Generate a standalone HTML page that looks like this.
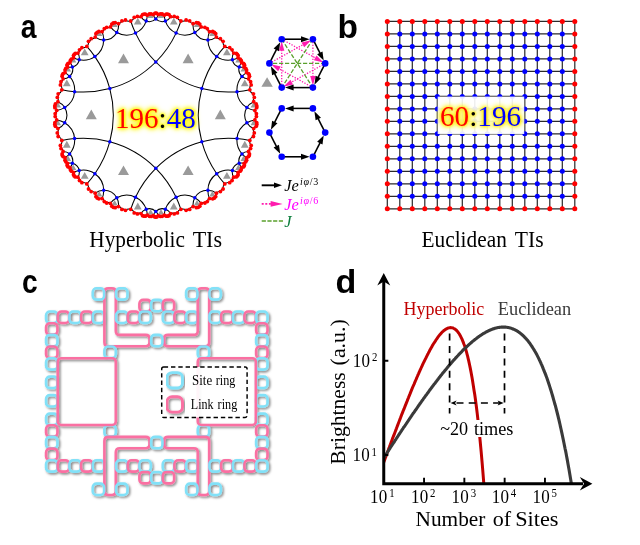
<!DOCTYPE html>
<html><head><meta charset="utf-8"><title>Figure</title>
<style>
html,body{margin:0;padding:0;background:#fff;}
#root{position:relative;width:640px;height:545px;overflow:hidden;background:#fff;}
.glow{position:absolute;transform-origin:0 0;font-family:"Liberation Serif","Times New Roman",serif;white-space:nowrap;line-height:1;text-shadow:0 0 2px #ff0,0 0 3px #ff0,0 0 4px #ff0,0 0 5px #ffee00,0 0 6px #ffee00,0 0 7px #fff200;}
.g2{text-shadow:0 0 2px #ffee11,0 0 3px #ffee11,0 0 4px #ffee22,0 0 5px #ffee22,0 0 6px #ffee33,0 0 7px #ffee44;}
.r{color:#f00}.b{color:#00f}.k{color:#000}
</style></head><body>
<div id="root">
<svg width="640" height="545" viewBox="0 0 640 545" style="position:absolute;left:0;top:0">
<defs>
<filter id="sh" x="-5%" y="-5%" width="115%" height="115%"><feDropShadow dx="1.5" dy="1.5" stdDeviation="1.0" flood-color="#000" flood-opacity="0.5"/></filter>
</defs>
<g id="pa">
<path d="M155.8 62.0A102.6 102.6 0 0 1 109.8 88.6M109.8 88.6A102.6 102.6 0 0 1 109.8 141.7M109.8 141.7A102.6 102.6 0 0 1 155.8 168.3M155.8 168.3A102.7 102.7 0 0 1 201.8 141.7M201.8 141.7A102.6 102.6 0 0 1 201.8 88.6M201.8 88.6A102.6 102.6 0 0 1 155.8 62.0M109.8 88.6A102.7 102.7 0 0 0 94.9 56.6M94.9 56.6A20.5 20.5 0 0 0 103.7 40.0M103.7 40.0A14.7 14.7 0 0 0 116.8 32.5M116.8 32.5A20.5 20.5 0 0 0 135.5 33.1M135.5 33.1A102.7 102.7 0 0 0 155.8 62.0M74.6 91.7A102.6 102.6 0 0 0 109.8 88.6M109.8 141.7A102.6 102.6 0 0 0 74.6 138.6M74.6 138.6A20.5 20.5 0 0 0 64.7 122.7M64.7 122.7A14.7 14.7 0 0 0 64.7 107.6M64.7 107.6A20.5 20.5 0 0 0 74.6 91.7M103.7 190.3A20.5 20.5 0 0 0 94.9 173.7M94.9 173.7A102.7 102.7 0 0 0 109.8 141.7M155.8 168.3A102.6 102.6 0 0 0 135.5 197.2M135.5 197.2A20.5 20.5 0 0 0 116.8 197.8M116.8 197.8A14.7 14.7 0 0 0 103.7 190.3M207.9 190.3A14.7 14.7 0 0 0 194.8 197.8M194.8 197.8A20.5 20.5 0 0 0 176.1 197.2M176.1 197.2A102.6 102.6 0 0 0 155.8 168.3M201.8 141.7A102.6 102.6 0 0 0 216.7 173.7M216.7 173.7A20.5 20.5 0 0 0 207.9 190.3M237.0 91.7A20.5 20.5 0 0 0 246.9 107.6M246.9 107.6A14.7 14.7 0 0 0 246.9 122.7M246.9 122.7A20.5 20.5 0 0 0 237.0 138.6M237.0 138.6A102.7 102.7 0 0 0 201.8 141.7M201.8 88.6A102.6 102.6 0 0 0 237.0 91.7M155.8 62.0A102.6 102.6 0 0 0 176.1 33.1M176.1 33.1A20.5 20.5 0 0 0 194.8 32.5M194.8 32.5A14.7 14.7 0 0 0 207.9 40.0M207.9 40.0A20.5 20.5 0 0 0 216.7 56.6M216.7 56.6A102.7 102.7 0 0 0 201.8 88.6M94.9 56.6A20.5 20.5 0 0 1 79.2 59.8M79.2 59.8A9.3 9.3 0 0 1 72.4 67.0M72.4 67.0A9.3 9.3 0 0 1 69.6 76.4M69.6 76.4A20.5 20.5 0 0 1 74.6 91.7M176.1 33.1A20.5 20.5 0 0 1 165.4 21.1M165.4 21.1A9.3 9.3 0 0 1 155.8 18.9M155.8 18.9A9.3 9.3 0 0 1 146.2 21.1M146.2 21.1A20.5 20.5 0 0 1 135.5 33.1M79.2 170.5A20.5 20.5 0 0 1 94.9 173.7M74.6 138.6A20.5 20.5 0 0 1 69.6 153.9M69.6 153.9A9.3 9.3 0 0 1 72.4 163.3M72.4 163.3A9.3 9.3 0 0 1 79.2 170.5M155.8 211.4A9.3 9.3 0 0 1 165.4 209.2M165.4 209.2A20.5 20.5 0 0 1 176.1 197.2M135.5 197.2A20.5 20.5 0 0 1 146.2 209.2M146.2 209.2A9.3 9.3 0 0 1 155.8 211.4M232.4 170.5A9.3 9.3 0 0 1 239.2 163.3M239.2 163.3A9.3 9.3 0 0 1 242.0 153.9M242.0 153.9A20.5 20.5 0 0 1 237.0 138.6M216.7 173.7A20.5 20.5 0 0 1 232.4 170.5M237.0 91.7A20.5 20.5 0 0 1 242.0 76.4M242.0 76.4A9.3 9.3 0 0 1 239.2 67.0M239.2 67.0A9.3 9.3 0 0 1 232.4 59.8M232.4 59.8A20.5 20.5 0 0 1 216.7 56.6M88.5 41.3A5.4 5.4 0 0 1 86.8 46.4M86.8 46.4A102.7 102.7 0 0 1 94.9 56.6M103.7 40.0A14.7 14.7 0 0 1 95.2 37.1M95.2 37.1A4.1 4.1 0 0 1 91.2 38.7M91.2 38.7A3.3 3.3 0 0 1 88.5 41.3M106.7 27.3A2.5 2.5 0 0 1 104.3 28.7M104.3 28.7A3.5 3.5 0 0 1 102.1 31.7M102.1 31.7A20.5 20.5 0 0 1 103.7 40.0M116.8 32.5A20.5 20.5 0 0 1 110.4 26.9M110.4 26.9A3.5 3.5 0 0 1 106.7 27.3M130.7 21.0A5.4 5.4 0 0 1 125.5 20.0M125.5 20.0A3.3 3.3 0 0 1 121.9 20.9M121.9 20.9A4.1 4.1 0 0 1 118.5 23.7M118.5 23.7A14.7 14.7 0 0 1 116.8 32.5M135.5 33.1A102.6 102.6 0 0 1 130.7 21.0M57.3 132.9A3.3 3.3 0 0 1 58.2 136.5M58.2 136.5A5.4 5.4 0 0 1 61.8 140.5M61.8 140.5A102.7 102.7 0 0 1 74.6 138.6M64.7 122.7A14.7 14.7 0 0 1 57.9 128.6M57.9 128.6A4.1 4.1 0 0 1 57.3 132.9M56.7 110.4A3.5 3.5 0 0 1 55.2 113.7M55.2 113.7A2.5 2.5 0 0 1 55.2 116.6M55.2 116.6A3.5 3.5 0 0 1 56.7 119.9M56.7 119.9A20.5 20.5 0 0 1 64.7 122.7M64.7 107.6A20.5 20.5 0 0 1 56.7 110.4M74.6 91.7A102.6 102.6 0 0 1 61.8 89.8M61.8 89.8A5.4 5.4 0 0 1 58.2 93.8M58.2 93.8A3.3 3.3 0 0 1 57.3 97.4M57.3 97.4A4.1 4.1 0 0 1 57.9 101.7M57.9 101.7A14.7 14.7 0 0 1 64.7 107.6M94.9 173.7A102.6 102.6 0 0 1 86.8 183.9M86.8 183.9A5.4 5.4 0 0 1 88.5 189.0M88.5 189.0A3.3 3.3 0 0 1 91.2 191.6M91.2 191.6A4.1 4.1 0 0 1 95.2 193.2M95.2 193.2A14.7 14.7 0 0 1 103.7 190.3M118.5 206.6A4.1 4.1 0 0 1 121.9 209.4M121.9 209.4A3.3 3.3 0 0 1 125.5 210.3M125.5 210.3A5.4 5.4 0 0 1 130.7 209.3M130.7 209.3A102.6 102.6 0 0 1 135.5 197.2M116.8 197.8A14.7 14.7 0 0 1 118.5 206.6M103.7 190.3A20.5 20.5 0 0 1 102.1 198.6M102.1 198.6A3.5 3.5 0 0 1 104.3 201.6M104.3 201.6A2.5 2.5 0 0 1 106.7 203.0M106.7 203.0A3.5 3.5 0 0 1 110.4 203.4M110.4 203.4A20.5 20.5 0 0 1 116.8 197.8M194.8 197.8A20.5 20.5 0 0 1 201.2 203.4M201.2 203.4A3.5 3.5 0 0 1 204.9 203.0M204.9 203.0A2.5 2.5 0 0 1 207.3 201.6M207.3 201.6A3.5 3.5 0 0 1 209.5 198.6M209.5 198.6A20.5 20.5 0 0 1 207.9 190.3M193.1 206.6A14.7 14.7 0 0 1 194.8 197.8M176.1 197.2A102.7 102.7 0 0 1 180.9 209.3M180.9 209.3A5.4 5.4 0 0 1 186.1 210.3M186.1 210.3A3.3 3.3 0 0 1 189.7 209.4M189.7 209.4A4.1 4.1 0 0 1 193.1 206.6M207.9 190.3A14.7 14.7 0 0 1 216.4 193.2M216.4 193.2A4.1 4.1 0 0 1 220.4 191.6M220.4 191.6A3.3 3.3 0 0 1 223.1 189.0M223.1 189.0A5.4 5.4 0 0 1 224.8 183.9M224.8 183.9A102.7 102.7 0 0 1 216.7 173.7M246.9 107.6A14.7 14.7 0 0 1 253.7 101.7M253.7 101.7A4.1 4.1 0 0 1 254.3 97.4M254.3 97.4A3.3 3.3 0 0 1 253.4 93.8M253.4 93.8A5.4 5.4 0 0 1 249.8 89.8M249.8 89.8A102.6 102.6 0 0 1 237.0 91.7M254.9 110.4A20.5 20.5 0 0 1 246.9 107.6M246.9 122.7A20.5 20.5 0 0 1 254.9 119.9M254.9 119.9A3.5 3.5 0 0 1 256.4 116.6M256.4 116.6A2.5 2.5 0 0 1 256.4 113.7M256.4 113.7A3.5 3.5 0 0 1 254.9 110.4M254.3 132.9A4.1 4.1 0 0 1 253.7 128.6M253.7 128.6A14.7 14.7 0 0 1 246.9 122.7M237.0 138.6A102.7 102.7 0 0 1 249.8 140.5M249.8 140.5A5.4 5.4 0 0 1 253.4 136.5M253.4 136.5A3.3 3.3 0 0 1 254.3 132.9M180.9 21.0A102.6 102.6 0 0 1 176.1 33.1M194.8 32.5A14.7 14.7 0 0 1 193.1 23.7M193.1 23.7A4.1 4.1 0 0 1 189.7 20.9M189.7 20.9A3.3 3.3 0 0 1 186.1 20.0M186.1 20.0A5.4 5.4 0 0 1 180.9 21.0M204.9 27.3A3.5 3.5 0 0 1 201.2 26.9M201.2 26.9A20.5 20.5 0 0 1 194.8 32.5M207.9 40.0A20.5 20.5 0 0 1 209.5 31.7M209.5 31.7A3.5 3.5 0 0 1 207.3 28.7M207.3 28.7A2.5 2.5 0 0 1 204.9 27.3M223.1 41.3A3.3 3.3 0 0 1 220.4 38.7M220.4 38.7A4.1 4.1 0 0 1 216.4 37.1M216.4 37.1A14.7 14.7 0 0 1 207.9 40.0M216.7 56.6A102.7 102.7 0 0 1 224.8 46.4M224.8 46.4A5.4 5.4 0 0 1 223.1 41.3M81.9 47.6A5.4 5.4 0 0 0 86.8 46.4M79.2 59.8A9.3 9.3 0 0 0 77.9 53.1M77.9 53.1A3.3 3.3 0 0 0 79.5 49.8M79.5 49.8A2.9 2.9 0 0 0 81.9 47.6M70.4 60.5A1.6 1.6 0 0 0 71.4 59.1M71.4 59.1A2.4 2.4 0 0 0 73.5 57.8M73.5 57.8A20.5 20.5 0 0 0 79.2 59.8M72.4 67.0A9.3 9.3 0 0 0 69.9 62.7M69.9 62.7A2.1 2.1 0 0 0 70.4 60.5M65.0 72.6A2.4 2.4 0 0 0 65.0 70.1M65.0 70.1A1.6 1.6 0 0 0 65.8 68.5M65.8 68.5A2.1 2.1 0 0 0 67.5 67.0M67.5 67.0A9.3 9.3 0 0 0 72.4 67.0M69.6 76.4A20.5 20.5 0 0 0 65.0 72.6M61.8 89.8A5.4 5.4 0 0 0 60.4 84.9M60.4 84.9A2.9 2.9 0 0 0 61.0 81.7M61.0 81.7A3.3 3.3 0 0 0 63.1 78.8M63.1 78.8A9.3 9.3 0 0 0 69.6 76.4M97.2 32.3A1.7 1.7 0 0 0 98.9 31.5M98.9 31.5A3.5 3.5 0 0 0 102.1 31.7M95.2 37.1A4.1 4.1 0 0 0 95.9 33.7M95.9 33.7A1.7 1.7 0 0 0 97.2 32.3M111.8 24.1A1.7 1.7 0 0 0 113.3 23.0M113.3 23.0A1.7 1.7 0 0 0 115.2 22.6M115.2 22.6A4.1 4.1 0 0 0 118.5 23.7M110.4 26.9A3.5 3.5 0 0 0 111.8 24.1M130.7 21.0A5.4 5.4 0 0 0 134.3 17.4M134.3 17.4A2.9 2.9 0 0 0 137.4 16.4M137.4 16.4A3.3 3.3 0 0 0 141.0 16.7M141.0 16.7A9.3 9.3 0 0 0 146.2 21.1M165.4 21.1A9.3 9.3 0 0 0 170.6 16.7M170.6 16.7A3.3 3.3 0 0 0 174.2 16.4M174.2 16.4A2.9 2.9 0 0 0 177.3 17.4M177.3 17.4A5.4 5.4 0 0 0 180.9 21.0M162.2 14.0A2.4 2.4 0 0 0 164.3 15.2M164.3 15.2A20.5 20.5 0 0 0 165.4 21.1M155.8 18.9A9.3 9.3 0 0 0 158.3 14.6M158.3 14.6A2.1 2.1 0 0 0 160.4 13.9M160.4 13.9A1.6 1.6 0 0 0 162.2 14.0M149.4 14.0A1.6 1.6 0 0 0 151.2 13.9M151.2 13.9A2.1 2.1 0 0 0 153.3 14.6M153.3 14.6A9.3 9.3 0 0 0 155.8 18.9M146.2 21.1A20.5 20.5 0 0 0 147.3 15.2M147.3 15.2A2.4 2.4 0 0 0 149.4 14.0M86.8 183.9A5.4 5.4 0 0 0 81.9 182.7M81.9 182.7A2.9 2.9 0 0 0 79.5 180.5M79.5 180.5A3.3 3.3 0 0 0 77.9 177.2M77.9 177.2A9.3 9.3 0 0 0 79.2 170.5M61.0 148.6A2.9 2.9 0 0 0 60.4 145.4M60.4 145.4A5.4 5.4 0 0 0 61.8 140.5M69.6 153.9A9.3 9.3 0 0 0 63.1 151.5M63.1 151.5A3.3 3.3 0 0 0 61.0 148.6M67.5 163.3A2.1 2.1 0 0 0 65.8 161.8M65.8 161.8A1.6 1.6 0 0 0 65.0 160.2M65.0 160.2A2.4 2.4 0 0 0 65.0 157.7M65.0 157.7A20.5 20.5 0 0 0 69.6 153.9M72.4 163.3A9.3 9.3 0 0 0 67.5 163.3M79.2 170.5A20.5 20.5 0 0 0 73.5 172.5M73.5 172.5A2.4 2.4 0 0 0 71.4 171.2M71.4 171.2A1.6 1.6 0 0 0 70.4 169.8M70.4 169.8A2.1 2.1 0 0 0 69.9 167.6M69.9 167.6A9.3 9.3 0 0 0 72.4 163.3M55.4 126.3A1.7 1.7 0 0 0 54.8 124.4M54.8 124.4A1.7 1.7 0 0 0 54.9 122.6M54.9 122.6A3.5 3.5 0 0 0 56.7 119.9M57.9 128.6A4.1 4.1 0 0 0 55.4 126.3M56.7 110.4A3.5 3.5 0 0 0 54.9 107.7M54.9 107.7A1.7 1.7 0 0 0 54.8 105.9M54.8 105.9A1.7 1.7 0 0 0 55.4 104.0M55.4 104.0A4.1 4.1 0 0 0 57.9 101.7M102.1 198.6A3.5 3.5 0 0 0 98.9 198.8M98.9 198.8A1.7 1.7 0 0 0 97.2 198.0M97.2 198.0A1.7 1.7 0 0 0 95.9 196.6M95.9 196.6A4.1 4.1 0 0 0 95.2 193.2M165.4 209.2A20.5 20.5 0 0 0 164.3 215.1M164.3 215.1A2.4 2.4 0 0 0 162.2 216.3M162.2 216.3A1.6 1.6 0 0 0 160.4 216.4M160.4 216.4A2.1 2.1 0 0 0 158.3 215.7M158.3 215.7A9.3 9.3 0 0 0 155.8 211.4M170.6 213.6A9.3 9.3 0 0 0 165.4 209.2M180.9 209.3A5.4 5.4 0 0 0 177.3 212.9M177.3 212.9A2.9 2.9 0 0 0 174.2 213.9M174.2 213.9A3.3 3.3 0 0 0 170.6 213.6M141.0 213.6A3.3 3.3 0 0 0 137.4 213.9M137.4 213.9A2.9 2.9 0 0 0 134.3 212.9M134.3 212.9A5.4 5.4 0 0 0 130.7 209.3M146.2 209.2A9.3 9.3 0 0 0 141.0 213.6M155.8 211.4A9.3 9.3 0 0 0 153.3 215.7M153.3 215.7A2.1 2.1 0 0 0 151.2 216.4M151.2 216.4A1.6 1.6 0 0 0 149.4 216.3M149.4 216.3A2.4 2.4 0 0 0 147.3 215.1M147.3 215.1A20.5 20.5 0 0 0 146.2 209.2M118.5 206.6A4.1 4.1 0 0 0 115.2 207.7M115.2 207.7A1.7 1.7 0 0 0 113.3 207.3M113.3 207.3A1.7 1.7 0 0 0 111.8 206.2M111.8 206.2A3.5 3.5 0 0 0 110.4 203.4M201.2 203.4A3.5 3.5 0 0 0 199.8 206.2M199.8 206.2A1.7 1.7 0 0 0 198.3 207.3M198.3 207.3A1.7 1.7 0 0 0 196.4 207.7M196.4 207.7A4.1 4.1 0 0 0 193.1 206.6M216.4 193.2A4.1 4.1 0 0 0 215.7 196.6M215.7 196.6A1.7 1.7 0 0 0 214.4 198.0M214.4 198.0A1.7 1.7 0 0 0 212.7 198.8M212.7 198.8A3.5 3.5 0 0 0 209.5 198.6M239.2 163.3A9.3 9.3 0 0 0 241.7 167.6M241.7 167.6A2.1 2.1 0 0 0 241.2 169.8M241.2 169.8A1.6 1.6 0 0 0 240.2 171.2M240.2 171.2A2.4 2.4 0 0 0 238.1 172.5M238.1 172.5A20.5 20.5 0 0 0 232.4 170.5M244.1 163.3A9.3 9.3 0 0 0 239.2 163.3M242.0 153.9A20.5 20.5 0 0 0 246.6 157.7M246.6 157.7A2.4 2.4 0 0 0 246.6 160.2M246.6 160.2A1.6 1.6 0 0 0 245.8 161.8M245.8 161.8A2.1 2.1 0 0 0 244.1 163.3M250.6 148.6A3.3 3.3 0 0 0 248.5 151.5M248.5 151.5A9.3 9.3 0 0 0 242.0 153.9M249.8 140.5A5.4 5.4 0 0 0 251.2 145.4M251.2 145.4A2.9 2.9 0 0 0 250.6 148.6M232.4 170.5A9.3 9.3 0 0 0 233.7 177.2M233.7 177.2A3.3 3.3 0 0 0 232.1 180.5M232.1 180.5A2.9 2.9 0 0 0 229.7 182.7M229.7 182.7A5.4 5.4 0 0 0 224.8 183.9M253.7 101.7A4.1 4.1 0 0 0 256.2 104.0M256.2 104.0A1.7 1.7 0 0 0 256.8 105.9M256.8 105.9A1.7 1.7 0 0 0 256.7 107.7M256.7 107.7A3.5 3.5 0 0 0 254.9 110.4M242.0 76.4A9.3 9.3 0 0 0 248.5 78.8M248.5 78.8A3.3 3.3 0 0 0 250.6 81.7M250.6 81.7A2.9 2.9 0 0 0 251.2 84.9M251.2 84.9A5.4 5.4 0 0 0 249.8 89.8M256.2 126.3A4.1 4.1 0 0 0 253.7 128.6M254.9 119.9A3.5 3.5 0 0 0 256.7 122.6M256.7 122.6A1.7 1.7 0 0 0 256.8 124.4M256.8 124.4A1.7 1.7 0 0 0 256.2 126.3M246.6 72.6A20.5 20.5 0 0 0 242.0 76.4M239.2 67.0A9.3 9.3 0 0 0 244.1 67.0M244.1 67.0A2.1 2.1 0 0 0 245.8 68.5M245.8 68.5A1.6 1.6 0 0 0 246.6 70.1M246.6 70.1A2.4 2.4 0 0 0 246.6 72.6M241.2 60.5A2.1 2.1 0 0 0 241.7 62.7M241.7 62.7A9.3 9.3 0 0 0 239.2 67.0M232.4 59.8A20.5 20.5 0 0 0 238.1 57.8M238.1 57.8A2.4 2.4 0 0 0 240.2 59.1M240.2 59.1A1.6 1.6 0 0 0 241.2 60.5M229.7 47.6A2.9 2.9 0 0 0 232.1 49.8M232.1 49.8A3.3 3.3 0 0 0 233.7 53.1M233.7 53.1A9.3 9.3 0 0 0 232.4 59.8M224.8 46.4A5.4 5.4 0 0 0 229.7 47.6M199.8 24.1A3.5 3.5 0 0 0 201.2 26.9M193.1 23.7A4.1 4.1 0 0 0 196.4 22.6M196.4 22.6A1.7 1.7 0 0 0 198.3 23.0M198.3 23.0A1.7 1.7 0 0 0 199.8 24.1M214.4 32.3A1.7 1.7 0 0 0 215.7 33.7M215.7 33.7A4.1 4.1 0 0 0 216.4 37.1M209.5 31.7A3.5 3.5 0 0 0 212.7 31.5M212.7 31.5A1.7 1.7 0 0 0 214.4 32.3M74.2 54.4A1.2 1.2 0 0 1 73.5 55.6M73.5 55.6A2.4 2.4 0 0 1 73.5 57.8M77.9 53.1A3.3 3.3 0 0 1 75.3 53.4M75.3 53.4A1.3 1.3 0 0 1 74.2 54.4M68.2 63.4A0.9 0.9 0 0 1 67.5 64.2M67.5 64.2A0.9 0.9 0 0 1 67.1 65.2M67.1 65.2A2.1 2.1 0 0 1 67.5 67.0M69.9 62.7A2.1 2.1 0 0 1 68.2 63.4M65.0 72.6A2.4 2.4 0 0 1 63.1 73.7M63.1 73.7A1.2 1.2 0 0 1 62.4 74.8M62.4 74.8A1.3 1.3 0 0 1 62.1 76.3M62.1 76.3A3.3 3.3 0 0 1 63.1 78.8M145.4 14.1A1.2 1.2 0 0 1 144.0 14.1M144.0 14.1A1.3 1.3 0 0 1 142.6 14.6M142.6 14.6A3.3 3.3 0 0 1 141.0 16.7M147.3 15.2A2.4 2.4 0 0 1 145.4 14.1M166.2 14.1A2.4 2.4 0 0 1 164.3 15.2M170.6 16.7A3.3 3.3 0 0 1 169.0 14.6M169.0 14.6A1.3 1.3 0 0 1 167.6 14.1M167.6 14.1A1.2 1.2 0 0 1 166.2 14.1M155.8 13.2A0.9 0.9 0 0 1 154.8 13.4M154.8 13.4A2.1 2.1 0 0 1 153.3 14.6M158.3 14.6A2.1 2.1 0 0 1 156.8 13.4M156.8 13.4A0.9 0.9 0 0 1 155.8 13.2M73.5 172.5A2.4 2.4 0 0 1 73.5 174.7M73.5 174.7A1.2 1.2 0 0 1 74.2 175.9M74.2 175.9A1.3 1.3 0 0 1 75.3 176.9M75.3 176.9A3.3 3.3 0 0 1 77.9 177.2M62.1 154.0A1.3 1.3 0 0 1 62.4 155.5M62.4 155.5A1.2 1.2 0 0 1 63.1 156.6M63.1 156.6A2.4 2.4 0 0 1 65.0 157.7M63.1 151.5A3.3 3.3 0 0 1 62.1 154.0M67.5 163.3A2.1 2.1 0 0 1 67.1 165.1M67.1 165.1A0.9 0.9 0 0 1 67.5 166.1M67.5 166.1A0.9 0.9 0 0 1 68.2 166.9M68.2 166.9A2.1 2.1 0 0 1 69.9 167.6M164.3 215.1A2.4 2.4 0 0 1 166.2 216.2M166.2 216.2A1.2 1.2 0 0 1 167.6 216.2M167.6 216.2A1.3 1.3 0 0 1 169.0 215.7M169.0 215.7A3.3 3.3 0 0 1 170.6 213.6M153.3 215.7A2.1 2.1 0 0 1 154.8 216.9M154.8 216.9A0.9 0.9 0 0 1 155.8 217.1M155.8 217.1A0.9 0.9 0 0 1 156.8 216.9M156.8 216.9A2.1 2.1 0 0 1 158.3 215.7M141.0 213.6A3.3 3.3 0 0 1 142.6 215.7M142.6 215.7A1.3 1.3 0 0 1 144.0 216.2M144.0 216.2A1.2 1.2 0 0 1 145.4 216.2M145.4 216.2A2.4 2.4 0 0 1 147.3 215.1M241.7 167.6A2.1 2.1 0 0 1 243.4 166.9M243.4 166.9A0.9 0.9 0 0 1 244.1 166.1M244.1 166.1A0.9 0.9 0 0 1 244.5 165.1M244.5 165.1A2.1 2.1 0 0 1 244.1 163.3M233.7 177.2A3.3 3.3 0 0 1 236.3 176.9M236.3 176.9A1.3 1.3 0 0 1 237.4 175.9M237.4 175.9A1.2 1.2 0 0 1 238.1 174.7M238.1 174.7A2.4 2.4 0 0 1 238.1 172.5M249.5 154.0A3.3 3.3 0 0 1 248.5 151.5M246.6 157.7A2.4 2.4 0 0 1 248.5 156.6M248.5 156.6A1.2 1.2 0 0 1 249.2 155.5M249.2 155.5A1.3 1.3 0 0 1 249.5 154.0M248.5 78.8A3.3 3.3 0 0 1 249.5 76.3M249.5 76.3A1.3 1.3 0 0 1 249.2 74.8M249.2 74.8A1.2 1.2 0 0 1 248.5 73.7M248.5 73.7A2.4 2.4 0 0 1 246.6 72.6M243.4 63.4A2.1 2.1 0 0 1 241.7 62.7M244.1 67.0A2.1 2.1 0 0 1 244.5 65.2M244.5 65.2A0.9 0.9 0 0 1 244.1 64.2M244.1 64.2A0.9 0.9 0 0 1 243.4 63.4M237.4 54.4A1.3 1.3 0 0 1 236.3 53.4M236.3 53.4A3.3 3.3 0 0 1 233.7 53.1M238.1 57.8A2.4 2.4 0 0 1 238.1 55.6M238.1 55.6A1.2 1.2 0 0 1 237.4 54.4" fill="none" stroke="#000" stroke-width="1.05"/>
<path d="M118.0 63.3L129.0 63.3L123.5 53.6ZM85.8 119.2L96.8 119.2L91.3 109.5ZM118.0 175.1L129.0 175.1L123.5 165.4ZM182.6 175.1L193.6 175.1L188.1 165.4ZM214.8 119.2L225.8 119.2L220.3 109.5ZM182.6 63.3L193.6 63.3L188.1 53.6ZM80.8 55.2L88.6 55.2L84.7 48.4ZM70.1 62.6L76.3 62.6L73.2 57.1ZM64.9 71.6L71.1 71.6L68.0 66.2ZM62.9 86.3L70.7 86.3L66.8 79.4ZM96.1 36.0L102.3 36.0L99.2 30.5ZM111.5 27.1L117.7 27.1L114.6 21.6ZM133.9 24.6L141.7 24.6L137.8 17.7ZM169.9 24.6L177.7 24.6L173.8 17.7ZM157.9 17.9L164.1 17.9L161.0 12.5ZM147.5 17.9L153.7 17.9L150.6 12.5ZM80.8 178.7L88.6 178.7L84.7 171.9ZM62.9 147.7L70.7 147.7L66.8 140.8ZM64.9 160.9L71.1 160.9L68.0 155.5ZM70.1 170.0L76.3 170.0L73.2 164.5ZM54.8 125.2L61.0 125.2L57.9 119.7ZM54.8 107.4L61.0 107.4L57.9 101.9ZM96.1 196.6L102.3 196.6L99.2 191.1ZM157.9 214.6L164.1 214.6L161.0 209.2ZM169.9 209.4L177.7 209.4L173.8 202.5ZM133.9 209.4L141.7 209.4L137.8 202.5ZM147.5 214.6L153.7 214.6L150.6 209.2ZM111.5 205.5L117.7 205.5L114.6 200.0ZM193.9 205.5L200.1 205.5L197.0 200.0ZM209.3 196.6L215.5 196.6L212.4 191.1ZM235.3 170.0L241.5 170.0L238.4 164.5ZM240.5 160.9L246.7 160.9L243.6 155.5ZM240.9 147.7L248.7 147.7L244.8 140.8ZM223.0 178.7L230.8 178.7L226.9 171.9ZM250.6 107.4L256.8 107.4L253.7 101.9ZM240.9 86.3L248.7 86.3L244.8 79.4ZM250.6 125.2L256.8 125.2L253.7 119.7ZM240.5 71.6L246.7 71.6L243.6 66.2ZM235.3 62.6L241.5 62.6L238.4 57.1ZM223.0 55.2L230.8 55.2L226.9 48.4ZM193.9 27.1L200.1 27.1L197.0 21.6ZM209.3 36.0L215.5 36.0L212.4 30.5Z" fill="#9a9a9a"/>
<g fill="#f00"><circle cx="88.5" cy="41.3" r="1.9"/><circle cx="86.8" cy="46.4" r="1.9"/><circle cx="95.2" cy="37.1" r="1.9"/><circle cx="91.2" cy="38.7" r="1.9"/><circle cx="106.7" cy="27.3" r="1.9"/><circle cx="104.3" cy="28.7" r="1.9"/><circle cx="102.1" cy="31.7" r="1.9"/><circle cx="110.4" cy="26.9" r="1.9"/><circle cx="130.7" cy="21.0" r="1.9"/><circle cx="125.5" cy="20.0" r="1.9"/><circle cx="121.9" cy="20.9" r="1.9"/><circle cx="118.5" cy="23.7" r="1.9"/><circle cx="57.3" cy="132.9" r="1.9"/><circle cx="58.2" cy="136.5" r="1.9"/><circle cx="61.8" cy="140.5" r="1.9"/><circle cx="57.9" cy="128.6" r="1.9"/><circle cx="56.7" cy="110.4" r="1.9"/><circle cx="55.2" cy="113.7" r="1.9"/><circle cx="55.2" cy="116.6" r="1.9"/><circle cx="56.7" cy="119.9" r="1.9"/><circle cx="61.8" cy="89.8" r="1.9"/><circle cx="58.2" cy="93.8" r="1.9"/><circle cx="57.3" cy="97.4" r="1.9"/><circle cx="57.9" cy="101.7" r="1.9"/><circle cx="86.8" cy="183.9" r="1.9"/><circle cx="88.5" cy="189.0" r="1.9"/><circle cx="91.2" cy="191.6" r="1.9"/><circle cx="95.2" cy="193.2" r="1.9"/><circle cx="118.5" cy="206.6" r="1.9"/><circle cx="121.9" cy="209.4" r="1.9"/><circle cx="125.5" cy="210.3" r="1.9"/><circle cx="130.7" cy="209.3" r="1.9"/><circle cx="102.1" cy="198.6" r="1.9"/><circle cx="104.3" cy="201.6" r="1.9"/><circle cx="106.7" cy="203.0" r="1.9"/><circle cx="110.4" cy="203.4" r="1.9"/><circle cx="201.2" cy="203.4" r="1.9"/><circle cx="204.9" cy="203.0" r="1.9"/><circle cx="207.3" cy="201.6" r="1.9"/><circle cx="209.5" cy="198.6" r="1.9"/><circle cx="193.1" cy="206.6" r="1.9"/><circle cx="180.9" cy="209.3" r="1.9"/><circle cx="186.1" cy="210.3" r="1.9"/><circle cx="189.7" cy="209.4" r="1.9"/><circle cx="216.4" cy="193.2" r="1.9"/><circle cx="220.4" cy="191.6" r="1.9"/><circle cx="223.1" cy="189.0" r="1.9"/><circle cx="224.8" cy="183.9" r="1.9"/><circle cx="253.7" cy="101.7" r="1.9"/><circle cx="254.3" cy="97.4" r="1.9"/><circle cx="253.4" cy="93.8" r="1.9"/><circle cx="249.8" cy="89.8" r="1.9"/><circle cx="254.9" cy="110.4" r="1.9"/><circle cx="254.9" cy="119.9" r="1.9"/><circle cx="256.4" cy="116.6" r="1.9"/><circle cx="256.4" cy="113.7" r="1.9"/><circle cx="254.3" cy="132.9" r="1.9"/><circle cx="253.7" cy="128.6" r="1.9"/><circle cx="249.8" cy="140.5" r="1.9"/><circle cx="253.4" cy="136.5" r="1.9"/><circle cx="180.9" cy="21.0" r="1.9"/><circle cx="193.1" cy="23.7" r="1.9"/><circle cx="189.7" cy="20.9" r="1.9"/><circle cx="186.1" cy="20.0" r="1.9"/><circle cx="204.9" cy="27.3" r="1.9"/><circle cx="201.2" cy="26.9" r="1.9"/><circle cx="209.5" cy="31.7" r="1.9"/><circle cx="207.3" cy="28.7" r="1.9"/><circle cx="223.1" cy="41.3" r="1.9"/><circle cx="220.4" cy="38.7" r="1.9"/><circle cx="216.4" cy="37.1" r="1.9"/><circle cx="224.8" cy="46.4" r="1.9"/><circle cx="81.9" cy="47.6" r="1.9"/><circle cx="77.9" cy="53.1" r="1.9"/><circle cx="79.5" cy="49.8" r="1.9"/><circle cx="70.4" cy="60.5" r="1.9"/><circle cx="71.4" cy="59.1" r="1.9"/><circle cx="73.5" cy="57.8" r="1.9"/><circle cx="69.9" cy="62.7" r="1.9"/><circle cx="65.0" cy="72.6" r="1.9"/><circle cx="65.0" cy="70.1" r="1.9"/><circle cx="65.8" cy="68.5" r="1.9"/><circle cx="67.5" cy="67.0" r="1.9"/><circle cx="60.4" cy="84.9" r="1.9"/><circle cx="61.0" cy="81.7" r="1.9"/><circle cx="63.1" cy="78.8" r="1.9"/><circle cx="97.2" cy="32.3" r="1.9"/><circle cx="98.9" cy="31.5" r="1.9"/><circle cx="95.9" cy="33.7" r="1.9"/><circle cx="111.8" cy="24.1" r="1.9"/><circle cx="113.3" cy="23.0" r="1.9"/><circle cx="115.2" cy="22.6" r="1.9"/><circle cx="134.2" cy="17.4" r="1.9"/><circle cx="137.4" cy="16.4" r="1.9"/><circle cx="141.0" cy="16.7" r="1.9"/><circle cx="170.6" cy="16.7" r="1.9"/><circle cx="174.2" cy="16.4" r="1.9"/><circle cx="177.4" cy="17.4" r="1.9"/><circle cx="162.2" cy="14.0" r="1.9"/><circle cx="164.3" cy="15.2" r="1.9"/><circle cx="158.3" cy="14.6" r="1.9"/><circle cx="160.4" cy="13.9" r="1.9"/><circle cx="149.4" cy="14.0" r="1.9"/><circle cx="151.2" cy="13.9" r="1.9"/><circle cx="153.3" cy="14.6" r="1.9"/><circle cx="147.3" cy="15.2" r="1.9"/><circle cx="81.9" cy="182.7" r="1.9"/><circle cx="79.5" cy="180.5" r="1.9"/><circle cx="77.9" cy="177.2" r="1.9"/><circle cx="61.0" cy="148.6" r="1.9"/><circle cx="60.4" cy="145.4" r="1.9"/><circle cx="63.1" cy="151.5" r="1.9"/><circle cx="67.5" cy="163.3" r="1.9"/><circle cx="65.8" cy="161.8" r="1.9"/><circle cx="65.0" cy="160.2" r="1.9"/><circle cx="65.0" cy="157.7" r="1.9"/><circle cx="73.5" cy="172.5" r="1.9"/><circle cx="71.4" cy="171.2" r="1.9"/><circle cx="70.4" cy="169.8" r="1.9"/><circle cx="69.9" cy="167.6" r="1.9"/><circle cx="55.4" cy="126.3" r="1.9"/><circle cx="54.8" cy="124.4" r="1.9"/><circle cx="54.9" cy="122.6" r="1.9"/><circle cx="54.9" cy="107.7" r="1.9"/><circle cx="54.8" cy="105.9" r="1.9"/><circle cx="55.4" cy="104.0" r="1.9"/><circle cx="98.9" cy="198.8" r="1.9"/><circle cx="97.2" cy="198.0" r="1.9"/><circle cx="95.9" cy="196.6" r="1.9"/><circle cx="164.3" cy="215.1" r="1.9"/><circle cx="162.2" cy="216.3" r="1.9"/><circle cx="160.4" cy="216.4" r="1.9"/><circle cx="158.3" cy="215.7" r="1.9"/><circle cx="170.6" cy="213.6" r="1.9"/><circle cx="177.4" cy="212.9" r="1.9"/><circle cx="174.2" cy="213.9" r="1.9"/><circle cx="141.0" cy="213.6" r="1.9"/><circle cx="137.4" cy="213.9" r="1.9"/><circle cx="134.2" cy="212.9" r="1.9"/><circle cx="153.3" cy="215.7" r="1.9"/><circle cx="151.2" cy="216.4" r="1.9"/><circle cx="149.4" cy="216.3" r="1.9"/><circle cx="147.3" cy="215.1" r="1.9"/><circle cx="115.2" cy="207.7" r="1.9"/><circle cx="113.3" cy="207.3" r="1.9"/><circle cx="111.8" cy="206.2" r="1.9"/><circle cx="199.8" cy="206.2" r="1.9"/><circle cx="198.3" cy="207.3" r="1.9"/><circle cx="196.4" cy="207.7" r="1.9"/><circle cx="215.7" cy="196.6" r="1.9"/><circle cx="214.4" cy="198.0" r="1.9"/><circle cx="212.7" cy="198.8" r="1.9"/><circle cx="241.7" cy="167.6" r="1.9"/><circle cx="241.2" cy="169.8" r="1.9"/><circle cx="240.2" cy="171.2" r="1.9"/><circle cx="238.1" cy="172.5" r="1.9"/><circle cx="244.1" cy="163.3" r="1.9"/><circle cx="246.6" cy="157.7" r="1.9"/><circle cx="246.6" cy="160.2" r="1.9"/><circle cx="245.8" cy="161.8" r="1.9"/><circle cx="250.6" cy="148.6" r="1.9"/><circle cx="248.5" cy="151.5" r="1.9"/><circle cx="251.2" cy="145.4" r="1.9"/><circle cx="233.7" cy="177.2" r="1.9"/><circle cx="232.1" cy="180.5" r="1.9"/><circle cx="229.7" cy="182.7" r="1.9"/><circle cx="256.2" cy="104.0" r="1.9"/><circle cx="256.8" cy="105.9" r="1.9"/><circle cx="256.7" cy="107.7" r="1.9"/><circle cx="248.5" cy="78.8" r="1.9"/><circle cx="250.6" cy="81.7" r="1.9"/><circle cx="251.2" cy="84.9" r="1.9"/><circle cx="256.2" cy="126.3" r="1.9"/><circle cx="256.7" cy="122.6" r="1.9"/><circle cx="256.8" cy="124.4" r="1.9"/><circle cx="246.6" cy="72.6" r="1.9"/><circle cx="244.1" cy="67.0" r="1.9"/><circle cx="245.8" cy="68.5" r="1.9"/><circle cx="246.6" cy="70.1" r="1.9"/><circle cx="241.2" cy="60.5" r="1.9"/><circle cx="241.7" cy="62.7" r="1.9"/><circle cx="238.1" cy="57.8" r="1.9"/><circle cx="240.2" cy="59.1" r="1.9"/><circle cx="229.7" cy="47.6" r="1.9"/><circle cx="232.1" cy="49.8" r="1.9"/><circle cx="233.7" cy="53.1" r="1.9"/><circle cx="199.8" cy="24.1" r="1.9"/><circle cx="196.4" cy="22.6" r="1.9"/><circle cx="198.3" cy="23.0" r="1.9"/><circle cx="214.4" cy="32.3" r="1.9"/><circle cx="215.7" cy="33.7" r="1.9"/><circle cx="212.7" cy="31.5" r="1.9"/><circle cx="74.2" cy="54.4" r="1.9"/><circle cx="73.5" cy="55.6" r="1.9"/><circle cx="75.3" cy="53.4" r="1.9"/><circle cx="68.2" cy="63.4" r="1.9"/><circle cx="67.5" cy="64.2" r="1.9"/><circle cx="67.1" cy="65.2" r="1.9"/><circle cx="63.1" cy="73.7" r="1.9"/><circle cx="62.4" cy="74.8" r="1.9"/><circle cx="62.1" cy="76.3" r="1.9"/><circle cx="145.4" cy="14.1" r="1.9"/><circle cx="144.0" cy="14.1" r="1.9"/><circle cx="142.6" cy="14.6" r="1.9"/><circle cx="166.2" cy="14.1" r="1.9"/><circle cx="169.0" cy="14.6" r="1.9"/><circle cx="167.6" cy="14.1" r="1.9"/><circle cx="155.8" cy="13.2" r="1.9"/><circle cx="154.8" cy="13.4" r="1.9"/><circle cx="156.8" cy="13.4" r="1.9"/><circle cx="73.5" cy="174.7" r="1.9"/><circle cx="74.2" cy="175.9" r="1.9"/><circle cx="75.3" cy="176.9" r="1.9"/><circle cx="62.1" cy="154.0" r="1.9"/><circle cx="62.4" cy="155.5" r="1.9"/><circle cx="63.1" cy="156.6" r="1.9"/><circle cx="67.1" cy="165.1" r="1.9"/><circle cx="67.5" cy="166.1" r="1.9"/><circle cx="68.2" cy="166.9" r="1.9"/><circle cx="166.2" cy="216.2" r="1.9"/><circle cx="167.6" cy="216.2" r="1.9"/><circle cx="169.0" cy="215.7" r="1.9"/><circle cx="154.8" cy="216.9" r="1.9"/><circle cx="155.8" cy="217.1" r="1.9"/><circle cx="156.8" cy="216.9" r="1.9"/><circle cx="142.6" cy="215.7" r="1.9"/><circle cx="144.0" cy="216.2" r="1.9"/><circle cx="145.4" cy="216.2" r="1.9"/><circle cx="243.4" cy="166.9" r="1.9"/><circle cx="244.1" cy="166.1" r="1.9"/><circle cx="244.5" cy="165.1" r="1.9"/><circle cx="236.3" cy="176.9" r="1.9"/><circle cx="237.4" cy="175.9" r="1.9"/><circle cx="238.1" cy="174.7" r="1.9"/><circle cx="249.5" cy="154.0" r="1.9"/><circle cx="248.5" cy="156.6" r="1.9"/><circle cx="249.2" cy="155.5" r="1.9"/><circle cx="249.5" cy="76.3" r="1.9"/><circle cx="249.2" cy="74.8" r="1.9"/><circle cx="248.5" cy="73.7" r="1.9"/><circle cx="243.4" cy="63.4" r="1.9"/><circle cx="244.5" cy="65.2" r="1.9"/><circle cx="244.1" cy="64.2" r="1.9"/><circle cx="237.4" cy="54.4" r="1.9"/><circle cx="236.3" cy="53.4" r="1.9"/><circle cx="238.1" cy="55.6" r="1.9"/></g>
<g fill="#00f"><circle cx="155.8" cy="62.0" r="1.75"/><circle cx="109.8" cy="88.6" r="1.75"/><circle cx="109.8" cy="141.7" r="1.75"/><circle cx="155.8" cy="168.3" r="1.75"/><circle cx="201.8" cy="141.7" r="1.75"/><circle cx="201.8" cy="88.6" r="1.75"/><circle cx="94.9" cy="56.6" r="1.75"/><circle cx="103.7" cy="40.0" r="1.75"/><circle cx="116.8" cy="32.5" r="1.75"/><circle cx="135.5" cy="33.1" r="1.75"/><circle cx="74.6" cy="91.7" r="1.75"/><circle cx="74.6" cy="138.6" r="1.75"/><circle cx="64.7" cy="122.7" r="1.75"/><circle cx="64.7" cy="107.6" r="1.75"/><circle cx="103.7" cy="190.3" r="1.75"/><circle cx="94.9" cy="173.7" r="1.75"/><circle cx="135.5" cy="197.2" r="1.75"/><circle cx="116.8" cy="197.8" r="1.75"/><circle cx="207.9" cy="190.3" r="1.75"/><circle cx="194.8" cy="197.8" r="1.75"/><circle cx="176.1" cy="197.2" r="1.75"/><circle cx="216.7" cy="173.7" r="1.75"/><circle cx="237.0" cy="91.7" r="1.75"/><circle cx="246.9" cy="107.6" r="1.75"/><circle cx="246.9" cy="122.7" r="1.75"/><circle cx="237.0" cy="138.6" r="1.75"/><circle cx="176.1" cy="33.1" r="1.75"/><circle cx="194.8" cy="32.5" r="1.75"/><circle cx="207.9" cy="40.0" r="1.75"/><circle cx="216.7" cy="56.6" r="1.75"/><circle cx="79.2" cy="59.8" r="1.75"/><circle cx="72.4" cy="67.0" r="1.75"/><circle cx="69.6" cy="76.4" r="1.75"/><circle cx="165.4" cy="21.1" r="1.75"/><circle cx="155.8" cy="18.9" r="1.75"/><circle cx="146.2" cy="21.1" r="1.75"/><circle cx="79.2" cy="170.5" r="1.75"/><circle cx="69.6" cy="153.9" r="1.75"/><circle cx="72.4" cy="163.3" r="1.75"/><circle cx="155.8" cy="211.4" r="1.75"/><circle cx="165.4" cy="209.2" r="1.75"/><circle cx="146.2" cy="209.2" r="1.75"/><circle cx="232.4" cy="170.5" r="1.75"/><circle cx="239.2" cy="163.3" r="1.75"/><circle cx="242.0" cy="153.9" r="1.75"/><circle cx="242.0" cy="76.4" r="1.75"/><circle cx="239.2" cy="67.0" r="1.75"/><circle cx="232.4" cy="59.8" r="1.75"/></g>
</g>
<g id="ins">
<line x1="281.7" y1="39.2" x2="318.2" y2="59.5" stroke="#ff1cae" stroke-width="1.3" stroke-dasharray="1.3 1.5"/>
<path d="M323.47 62.44L313.86 60.18L316.48 55.46Z" fill="#ff1cae"/>
<line x1="312.9" y1="39.2" x2="312.9" y2="79.6" stroke="#ff1cae" stroke-width="1.3" stroke-dasharray="1.3 1.5"/>
<path d="M312.90 85.62L310.20 76.12L315.60 76.12Z" fill="#ff1cae"/>
<line x1="325.2" y1="63.4" x2="288.7" y2="83.7" stroke="#ff1cae" stroke-width="1.3" stroke-dasharray="1.3 1.5"/>
<path d="M283.43 86.64L290.42 79.66L293.04 84.38Z" fill="#ff1cae"/>
<line x1="312.9" y1="87.6" x2="276.4" y2="67.3" stroke="#ff1cae" stroke-width="1.3" stroke-dasharray="1.3 1.5"/>
<path d="M271.13 64.36L280.74 66.62L278.12 71.34Z" fill="#ff1cae"/>
<line x1="281.7" y1="87.6" x2="281.7" y2="47.2" stroke="#ff1cae" stroke-width="1.3" stroke-dasharray="1.3 1.5"/>
<path d="M281.70 41.18L284.40 50.68L279.00 50.68Z" fill="#ff1cae"/>
<line x1="269.4" y1="63.4" x2="305.9" y2="43.1" stroke="#ff1cae" stroke-width="1.3" stroke-dasharray="1.3 1.5"/>
<path d="M311.17 40.16L304.18 47.14L301.56 42.42Z" fill="#ff1cae"/>
<line x1="281.7" y1="39.2" x2="312.9" y2="87.6" stroke="#5aa02c" stroke-width="1.3" stroke-dasharray="4.2 1.8"/>
<line x1="312.9" y1="39.2" x2="281.7" y2="87.6" stroke="#5aa02c" stroke-width="1.3" stroke-dasharray="4.2 1.8"/>
<line x1="325.2" y1="63.4" x2="269.4" y2="63.4" stroke="#5aa02c" stroke-width="1.3" stroke-dasharray="4.2 1.8"/>
<line x1="281.7" y1="39.2" x2="305.6" y2="39.2" stroke="#000" stroke-width="1.55"/>
<path d="M309.60 39.20L301.00 42.20L301.00 36.20Z" fill="#000"/>
<line x1="312.9" y1="39.2" x2="321.9" y2="56.9" stroke="#000" stroke-width="1.55"/>
<path d="M323.70 60.46L317.13 54.15L322.48 51.43Z" fill="#000"/>
<line x1="325.2" y1="63.4" x2="316.2" y2="81.1" stroke="#000" stroke-width="1.55"/>
<path d="M314.40 84.66L315.62 75.63L320.97 78.35Z" fill="#000"/>
<line x1="312.9" y1="87.6" x2="289.0" y2="87.6" stroke="#000" stroke-width="1.55"/>
<path d="M285.00 87.60L293.60 84.60L293.60 90.60Z" fill="#000"/>
<line x1="281.7" y1="87.6" x2="272.7" y2="69.9" stroke="#000" stroke-width="1.55"/>
<path d="M270.90 66.34L277.47 72.65L272.12 75.37Z" fill="#000"/>
<line x1="269.4" y1="63.4" x2="278.4" y2="45.7" stroke="#000" stroke-width="1.55"/>
<path d="M280.20 42.14L278.98 51.17L273.63 48.45Z" fill="#000"/>
<circle cx="281.7" cy="39.2" r="3.3" fill="#00f"/>
<circle cx="312.9" cy="39.2" r="3.3" fill="#00f"/>
<circle cx="325.2" cy="63.4" r="3.3" fill="#00f"/>
<circle cx="312.9" cy="87.6" r="3.3" fill="#00f"/>
<circle cx="281.7" cy="87.6" r="3.3" fill="#00f"/>
<circle cx="269.4" cy="63.4" r="3.3" fill="#00f"/>
<line x1="312.9" y1="108.4" x2="289.0" y2="108.4" stroke="#000" stroke-width="1.55"/>
<path d="M285.00 108.40L293.60 105.40L293.60 111.40Z" fill="#000"/>
<line x1="325.2" y1="132.6" x2="316.2" y2="114.9" stroke="#000" stroke-width="1.55"/>
<path d="M314.40 111.34L320.97 117.65L315.62 120.37Z" fill="#000"/>
<line x1="312.9" y1="156.8" x2="321.9" y2="139.1" stroke="#000" stroke-width="1.55"/>
<path d="M323.70 135.54L322.48 144.57L317.13 141.85Z" fill="#000"/>
<line x1="281.7" y1="156.8" x2="305.6" y2="156.8" stroke="#000" stroke-width="1.55"/>
<path d="M309.60 156.80L301.00 159.80L301.00 153.80Z" fill="#000"/>
<line x1="269.4" y1="132.6" x2="278.4" y2="150.3" stroke="#000" stroke-width="1.55"/>
<path d="M280.20 153.86L273.63 147.55L278.98 144.83Z" fill="#000"/>
<line x1="281.7" y1="108.4" x2="272.7" y2="126.1" stroke="#000" stroke-width="1.55"/>
<path d="M270.90 129.66L272.12 120.63L277.47 123.35Z" fill="#000"/>
<circle cx="281.7" cy="108.4" r="3.3" fill="#00f"/>
<circle cx="312.9" cy="108.4" r="3.3" fill="#00f"/>
<circle cx="325.2" cy="132.6" r="3.3" fill="#00f"/>
<circle cx="312.9" cy="156.8" r="3.3" fill="#00f"/>
<circle cx="281.7" cy="156.8" r="3.3" fill="#00f"/>
<circle cx="269.4" cy="132.6" r="3.3" fill="#00f"/>
<path d="M261.4 86.8L272.8 86.8L267.1 77.2Z" fill="#9a9a9a"/>
<line x1="261.7" y1="185.3" x2="276" y2="185.3" stroke="#000" stroke-width="1.9"/>
<path d="M282.00 185.30L274.00 188.10L274.00 182.50Z" fill="#000"/>
<line x1="261.7" y1="203.9" x2="271" y2="203.9" stroke="#ff1cae" stroke-width="1.8" stroke-dasharray="2 1.6"/>
<path d="M282.60 203.90L270.60 206.80L270.60 201.00Z" fill="#ff1cae"/>
<line x1="261.7" y1="221" x2="283" y2="221" stroke="#5aa02c" stroke-width="1.7" stroke-dasharray="4.2 1.5"/>
<text x="284.3" y="191" font-family='"Liberation Serif","Times New Roman",serif' font-style="italic" font-size="16.4" fill="#000">Je<tspan dx="1.2" dy="-6.3" font-size="10" letter-spacing="0.7">iφ<tspan font-style="normal">/3</tspan></tspan></text>
<text x="284.3" y="209.8" font-family='"Liberation Serif","Times New Roman",serif' font-style="italic" font-size="16.4" fill="#f0f">Je<tspan dx="1.2" dy="-6.3" font-size="10" letter-spacing="0.7">iφ<tspan font-style="normal">/6</tspan></tspan></text>
<text x="284.3" y="226.7" font-family='"Liberation Serif","Times New Roman",serif' font-style="italic" font-size="16.4" fill="#0a7d3c">J</text>
</g>
<g id="pb">
<path d="M387.30 21.45V208.80M399.80 21.45V208.80M412.30 21.45V208.80M424.80 21.45V208.80M437.30 21.45V208.80M449.80 21.45V208.80M462.30 21.45V208.80M474.80 21.45V208.80M487.30 21.45V208.80M499.80 21.45V208.80M512.30 21.45V208.80M524.80 21.45V208.80M537.30 21.45V208.80M549.80 21.45V208.80M562.30 21.45V208.80M574.80 21.45V208.80M387.30 21.45H574.80M387.30 33.94H574.80M387.30 46.43H574.80M387.30 58.92H574.80M387.30 71.41H574.80M387.30 83.90H574.80M387.30 96.39H574.80M387.30 108.88H574.80M387.30 121.37H574.80M387.30 133.86H574.80M387.30 146.35H574.80M387.30 158.84H574.80M387.30 171.33H574.80M387.30 183.82H574.80M387.30 196.31H574.80M387.30 208.80H574.80" stroke="#2a2a2a" stroke-width="1.2" fill="none"/>
<g fill="#f00"><circle cx="387.30" cy="21.45" r="2.5"/><circle cx="387.30" cy="33.94" r="2.5"/><circle cx="387.30" cy="46.43" r="2.5"/><circle cx="387.30" cy="58.92" r="2.5"/><circle cx="387.30" cy="71.41" r="2.5"/><circle cx="387.30" cy="83.90" r="2.5"/><circle cx="387.30" cy="96.39" r="2.5"/><circle cx="387.30" cy="108.88" r="2.5"/><circle cx="387.30" cy="121.37" r="2.5"/><circle cx="387.30" cy="133.86" r="2.5"/><circle cx="387.30" cy="146.35" r="2.5"/><circle cx="387.30" cy="158.84" r="2.5"/><circle cx="387.30" cy="171.33" r="2.5"/><circle cx="387.30" cy="183.82" r="2.5"/><circle cx="387.30" cy="196.31" r="2.5"/><circle cx="387.30" cy="208.80" r="2.5"/><circle cx="399.80" cy="21.45" r="2.5"/><circle cx="399.80" cy="208.80" r="2.5"/><circle cx="412.30" cy="21.45" r="2.5"/><circle cx="412.30" cy="208.80" r="2.5"/><circle cx="424.80" cy="21.45" r="2.5"/><circle cx="424.80" cy="208.80" r="2.5"/><circle cx="437.30" cy="21.45" r="2.5"/><circle cx="437.30" cy="208.80" r="2.5"/><circle cx="449.80" cy="21.45" r="2.5"/><circle cx="449.80" cy="208.80" r="2.5"/><circle cx="462.30" cy="21.45" r="2.5"/><circle cx="462.30" cy="208.80" r="2.5"/><circle cx="474.80" cy="21.45" r="2.5"/><circle cx="474.80" cy="208.80" r="2.5"/><circle cx="487.30" cy="21.45" r="2.5"/><circle cx="487.30" cy="208.80" r="2.5"/><circle cx="499.80" cy="21.45" r="2.5"/><circle cx="499.80" cy="208.80" r="2.5"/><circle cx="512.30" cy="21.45" r="2.5"/><circle cx="512.30" cy="208.80" r="2.5"/><circle cx="524.80" cy="21.45" r="2.5"/><circle cx="524.80" cy="208.80" r="2.5"/><circle cx="537.30" cy="21.45" r="2.5"/><circle cx="537.30" cy="208.80" r="2.5"/><circle cx="549.80" cy="21.45" r="2.5"/><circle cx="549.80" cy="208.80" r="2.5"/><circle cx="562.30" cy="21.45" r="2.5"/><circle cx="562.30" cy="208.80" r="2.5"/><circle cx="574.80" cy="21.45" r="2.5"/><circle cx="574.80" cy="33.94" r="2.5"/><circle cx="574.80" cy="46.43" r="2.5"/><circle cx="574.80" cy="58.92" r="2.5"/><circle cx="574.80" cy="71.41" r="2.5"/><circle cx="574.80" cy="83.90" r="2.5"/><circle cx="574.80" cy="96.39" r="2.5"/><circle cx="574.80" cy="108.88" r="2.5"/><circle cx="574.80" cy="121.37" r="2.5"/><circle cx="574.80" cy="133.86" r="2.5"/><circle cx="574.80" cy="146.35" r="2.5"/><circle cx="574.80" cy="158.84" r="2.5"/><circle cx="574.80" cy="171.33" r="2.5"/><circle cx="574.80" cy="183.82" r="2.5"/><circle cx="574.80" cy="196.31" r="2.5"/><circle cx="574.80" cy="208.80" r="2.5"/></g>
<g fill="#00f"><circle cx="399.80" cy="33.94" r="2.5"/><circle cx="399.80" cy="46.43" r="2.5"/><circle cx="399.80" cy="58.92" r="2.5"/><circle cx="399.80" cy="71.41" r="2.5"/><circle cx="399.80" cy="83.90" r="2.5"/><circle cx="399.80" cy="96.39" r="2.5"/><circle cx="399.80" cy="108.88" r="2.5"/><circle cx="399.80" cy="121.37" r="2.5"/><circle cx="399.80" cy="133.86" r="2.5"/><circle cx="399.80" cy="146.35" r="2.5"/><circle cx="399.80" cy="158.84" r="2.5"/><circle cx="399.80" cy="171.33" r="2.5"/><circle cx="399.80" cy="183.82" r="2.5"/><circle cx="399.80" cy="196.31" r="2.5"/><circle cx="412.30" cy="33.94" r="2.5"/><circle cx="412.30" cy="46.43" r="2.5"/><circle cx="412.30" cy="58.92" r="2.5"/><circle cx="412.30" cy="71.41" r="2.5"/><circle cx="412.30" cy="83.90" r="2.5"/><circle cx="412.30" cy="96.39" r="2.5"/><circle cx="412.30" cy="108.88" r="2.5"/><circle cx="412.30" cy="121.37" r="2.5"/><circle cx="412.30" cy="133.86" r="2.5"/><circle cx="412.30" cy="146.35" r="2.5"/><circle cx="412.30" cy="158.84" r="2.5"/><circle cx="412.30" cy="171.33" r="2.5"/><circle cx="412.30" cy="183.82" r="2.5"/><circle cx="412.30" cy="196.31" r="2.5"/><circle cx="424.80" cy="33.94" r="2.5"/><circle cx="424.80" cy="46.43" r="2.5"/><circle cx="424.80" cy="58.92" r="2.5"/><circle cx="424.80" cy="71.41" r="2.5"/><circle cx="424.80" cy="83.90" r="2.5"/><circle cx="424.80" cy="96.39" r="2.5"/><circle cx="424.80" cy="108.88" r="2.5"/><circle cx="424.80" cy="121.37" r="2.5"/><circle cx="424.80" cy="133.86" r="2.5"/><circle cx="424.80" cy="146.35" r="2.5"/><circle cx="424.80" cy="158.84" r="2.5"/><circle cx="424.80" cy="171.33" r="2.5"/><circle cx="424.80" cy="183.82" r="2.5"/><circle cx="424.80" cy="196.31" r="2.5"/><circle cx="437.30" cy="33.94" r="2.5"/><circle cx="437.30" cy="46.43" r="2.5"/><circle cx="437.30" cy="58.92" r="2.5"/><circle cx="437.30" cy="71.41" r="2.5"/><circle cx="437.30" cy="83.90" r="2.5"/><circle cx="437.30" cy="96.39" r="2.5"/><circle cx="437.30" cy="108.88" r="2.5"/><circle cx="437.30" cy="121.37" r="2.5"/><circle cx="437.30" cy="133.86" r="2.5"/><circle cx="437.30" cy="146.35" r="2.5"/><circle cx="437.30" cy="158.84" r="2.5"/><circle cx="437.30" cy="171.33" r="2.5"/><circle cx="437.30" cy="183.82" r="2.5"/><circle cx="437.30" cy="196.31" r="2.5"/><circle cx="449.80" cy="33.94" r="2.5"/><circle cx="449.80" cy="46.43" r="2.5"/><circle cx="449.80" cy="58.92" r="2.5"/><circle cx="449.80" cy="71.41" r="2.5"/><circle cx="449.80" cy="83.90" r="2.5"/><circle cx="449.80" cy="96.39" r="2.5"/><circle cx="449.80" cy="108.88" r="2.5"/><circle cx="449.80" cy="121.37" r="2.5"/><circle cx="449.80" cy="133.86" r="2.5"/><circle cx="449.80" cy="146.35" r="2.5"/><circle cx="449.80" cy="158.84" r="2.5"/><circle cx="449.80" cy="171.33" r="2.5"/><circle cx="449.80" cy="183.82" r="2.5"/><circle cx="449.80" cy="196.31" r="2.5"/><circle cx="462.30" cy="33.94" r="2.5"/><circle cx="462.30" cy="46.43" r="2.5"/><circle cx="462.30" cy="58.92" r="2.5"/><circle cx="462.30" cy="71.41" r="2.5"/><circle cx="462.30" cy="83.90" r="2.5"/><circle cx="462.30" cy="96.39" r="2.5"/><circle cx="462.30" cy="108.88" r="2.5"/><circle cx="462.30" cy="121.37" r="2.5"/><circle cx="462.30" cy="133.86" r="2.5"/><circle cx="462.30" cy="146.35" r="2.5"/><circle cx="462.30" cy="158.84" r="2.5"/><circle cx="462.30" cy="171.33" r="2.5"/><circle cx="462.30" cy="183.82" r="2.5"/><circle cx="462.30" cy="196.31" r="2.5"/><circle cx="474.80" cy="33.94" r="2.5"/><circle cx="474.80" cy="46.43" r="2.5"/><circle cx="474.80" cy="58.92" r="2.5"/><circle cx="474.80" cy="71.41" r="2.5"/><circle cx="474.80" cy="83.90" r="2.5"/><circle cx="474.80" cy="96.39" r="2.5"/><circle cx="474.80" cy="108.88" r="2.5"/><circle cx="474.80" cy="121.37" r="2.5"/><circle cx="474.80" cy="133.86" r="2.5"/><circle cx="474.80" cy="146.35" r="2.5"/><circle cx="474.80" cy="158.84" r="2.5"/><circle cx="474.80" cy="171.33" r="2.5"/><circle cx="474.80" cy="183.82" r="2.5"/><circle cx="474.80" cy="196.31" r="2.5"/><circle cx="487.30" cy="33.94" r="2.5"/><circle cx="487.30" cy="46.43" r="2.5"/><circle cx="487.30" cy="58.92" r="2.5"/><circle cx="487.30" cy="71.41" r="2.5"/><circle cx="487.30" cy="83.90" r="2.5"/><circle cx="487.30" cy="96.39" r="2.5"/><circle cx="487.30" cy="108.88" r="2.5"/><circle cx="487.30" cy="121.37" r="2.5"/><circle cx="487.30" cy="133.86" r="2.5"/><circle cx="487.30" cy="146.35" r="2.5"/><circle cx="487.30" cy="158.84" r="2.5"/><circle cx="487.30" cy="171.33" r="2.5"/><circle cx="487.30" cy="183.82" r="2.5"/><circle cx="487.30" cy="196.31" r="2.5"/><circle cx="499.80" cy="33.94" r="2.5"/><circle cx="499.80" cy="46.43" r="2.5"/><circle cx="499.80" cy="58.92" r="2.5"/><circle cx="499.80" cy="71.41" r="2.5"/><circle cx="499.80" cy="83.90" r="2.5"/><circle cx="499.80" cy="96.39" r="2.5"/><circle cx="499.80" cy="108.88" r="2.5"/><circle cx="499.80" cy="121.37" r="2.5"/><circle cx="499.80" cy="133.86" r="2.5"/><circle cx="499.80" cy="146.35" r="2.5"/><circle cx="499.80" cy="158.84" r="2.5"/><circle cx="499.80" cy="171.33" r="2.5"/><circle cx="499.80" cy="183.82" r="2.5"/><circle cx="499.80" cy="196.31" r="2.5"/><circle cx="512.30" cy="33.94" r="2.5"/><circle cx="512.30" cy="46.43" r="2.5"/><circle cx="512.30" cy="58.92" r="2.5"/><circle cx="512.30" cy="71.41" r="2.5"/><circle cx="512.30" cy="83.90" r="2.5"/><circle cx="512.30" cy="96.39" r="2.5"/><circle cx="512.30" cy="108.88" r="2.5"/><circle cx="512.30" cy="121.37" r="2.5"/><circle cx="512.30" cy="133.86" r="2.5"/><circle cx="512.30" cy="146.35" r="2.5"/><circle cx="512.30" cy="158.84" r="2.5"/><circle cx="512.30" cy="171.33" r="2.5"/><circle cx="512.30" cy="183.82" r="2.5"/><circle cx="512.30" cy="196.31" r="2.5"/><circle cx="524.80" cy="33.94" r="2.5"/><circle cx="524.80" cy="46.43" r="2.5"/><circle cx="524.80" cy="58.92" r="2.5"/><circle cx="524.80" cy="71.41" r="2.5"/><circle cx="524.80" cy="83.90" r="2.5"/><circle cx="524.80" cy="96.39" r="2.5"/><circle cx="524.80" cy="108.88" r="2.5"/><circle cx="524.80" cy="121.37" r="2.5"/><circle cx="524.80" cy="133.86" r="2.5"/><circle cx="524.80" cy="146.35" r="2.5"/><circle cx="524.80" cy="158.84" r="2.5"/><circle cx="524.80" cy="171.33" r="2.5"/><circle cx="524.80" cy="183.82" r="2.5"/><circle cx="524.80" cy="196.31" r="2.5"/><circle cx="537.30" cy="33.94" r="2.5"/><circle cx="537.30" cy="46.43" r="2.5"/><circle cx="537.30" cy="58.92" r="2.5"/><circle cx="537.30" cy="71.41" r="2.5"/><circle cx="537.30" cy="83.90" r="2.5"/><circle cx="537.30" cy="96.39" r="2.5"/><circle cx="537.30" cy="108.88" r="2.5"/><circle cx="537.30" cy="121.37" r="2.5"/><circle cx="537.30" cy="133.86" r="2.5"/><circle cx="537.30" cy="146.35" r="2.5"/><circle cx="537.30" cy="158.84" r="2.5"/><circle cx="537.30" cy="171.33" r="2.5"/><circle cx="537.30" cy="183.82" r="2.5"/><circle cx="537.30" cy="196.31" r="2.5"/><circle cx="549.80" cy="33.94" r="2.5"/><circle cx="549.80" cy="46.43" r="2.5"/><circle cx="549.80" cy="58.92" r="2.5"/><circle cx="549.80" cy="71.41" r="2.5"/><circle cx="549.80" cy="83.90" r="2.5"/><circle cx="549.80" cy="96.39" r="2.5"/><circle cx="549.80" cy="108.88" r="2.5"/><circle cx="549.80" cy="121.37" r="2.5"/><circle cx="549.80" cy="133.86" r="2.5"/><circle cx="549.80" cy="146.35" r="2.5"/><circle cx="549.80" cy="158.84" r="2.5"/><circle cx="549.80" cy="171.33" r="2.5"/><circle cx="549.80" cy="183.82" r="2.5"/><circle cx="549.80" cy="196.31" r="2.5"/><circle cx="562.30" cy="33.94" r="2.5"/><circle cx="562.30" cy="46.43" r="2.5"/><circle cx="562.30" cy="58.92" r="2.5"/><circle cx="562.30" cy="71.41" r="2.5"/><circle cx="562.30" cy="83.90" r="2.5"/><circle cx="562.30" cy="96.39" r="2.5"/><circle cx="562.30" cy="108.88" r="2.5"/><circle cx="562.30" cy="121.37" r="2.5"/><circle cx="562.30" cy="133.86" r="2.5"/><circle cx="562.30" cy="146.35" r="2.5"/><circle cx="562.30" cy="158.84" r="2.5"/><circle cx="562.30" cy="171.33" r="2.5"/><circle cx="562.30" cy="183.82" r="2.5"/><circle cx="562.30" cy="196.31" r="2.5"/></g>
<rect x="437.7" y="96.6" width="86.5" height="37.4" fill="#fff" fill-opacity="0.91"/>
</g>
<g id="pc">
<g filter="url(#sh)">
<rect x="46.05" y="311.54" width="11.40" height="11.40" rx="3.8" fill="none" stroke="#82e1f8" stroke-width="2.6"/>
<rect x="46.05" y="323.21" width="11.40" height="11.40" rx="3.8" fill="none" stroke="#fa6fa2" stroke-width="2.6"/>
<rect x="46.05" y="334.88" width="11.40" height="11.40" rx="3.8" fill="none" stroke="#82e1f8" stroke-width="2.6"/>
<rect x="46.05" y="346.55" width="11.40" height="11.40" rx="3.8" fill="none" stroke="#fa6fa2" stroke-width="2.6"/>
<rect x="46.05" y="358.22" width="11.40" height="11.40" rx="3.8" fill="none" stroke="#82e1f8" stroke-width="2.6"/>
<rect x="46.05" y="376.67" width="11.40" height="11.40" rx="3.8" fill="none" stroke="#82e1f8" stroke-width="2.6"/>
<rect x="46.05" y="395.13" width="11.40" height="11.40" rx="3.8" fill="none" stroke="#82e1f8" stroke-width="2.6"/>
<rect x="46.05" y="413.58" width="11.40" height="11.40" rx="3.8" fill="none" stroke="#82e1f8" stroke-width="2.6"/>
<rect x="46.05" y="425.25" width="11.40" height="11.40" rx="3.8" fill="none" stroke="#fa6fa2" stroke-width="2.6"/>
<rect x="46.05" y="436.92" width="11.40" height="11.40" rx="3.8" fill="none" stroke="#82e1f8" stroke-width="2.6"/>
<rect x="46.05" y="448.59" width="11.40" height="11.40" rx="3.8" fill="none" stroke="#fa6fa2" stroke-width="2.6"/>
<rect x="46.05" y="460.26" width="11.40" height="11.40" rx="3.8" fill="none" stroke="#82e1f8" stroke-width="2.6"/>
<rect x="57.72" y="311.54" width="11.40" height="11.40" rx="3.8" fill="none" stroke="#fa6fa2" stroke-width="2.6"/>
<rect x="57.72" y="460.26" width="11.40" height="11.40" rx="3.8" fill="none" stroke="#fa6fa2" stroke-width="2.6"/>
<rect x="69.39" y="311.54" width="11.40" height="11.40" rx="3.8" fill="none" stroke="#82e1f8" stroke-width="2.6"/>
<rect x="69.39" y="460.26" width="11.40" height="11.40" rx="3.8" fill="none" stroke="#82e1f8" stroke-width="2.6"/>
<rect x="81.06" y="311.54" width="11.40" height="11.40" rx="3.8" fill="none" stroke="#fa6fa2" stroke-width="2.6"/>
<rect x="81.06" y="460.26" width="11.40" height="11.40" rx="3.8" fill="none" stroke="#fa6fa2" stroke-width="2.6"/>
<rect x="92.73" y="311.54" width="11.40" height="11.40" rx="3.8" fill="none" stroke="#82e1f8" stroke-width="2.6"/>
<rect x="92.73" y="460.26" width="11.40" height="11.40" rx="3.8" fill="none" stroke="#82e1f8" stroke-width="2.6"/>
<path d="M104.40 292.20Q104.40 288.20 108.40 288.20L111.80 288.20Q115.80 288.20 115.80 292.20L115.80 330.88Q115.80 334.88 119.80 334.88L145.48 334.88Q149.48 334.88 149.48 338.88L149.48 342.28Q149.48 346.28 145.48 346.28L108.40 346.28Q104.40 346.28 104.40 342.28Z" fill="none" stroke="#fa6fa2" stroke-width="2.6"/>
<rect x="104.40" y="346.55" width="11.40" height="11.40" rx="3.8" fill="none" stroke="#82e1f8" stroke-width="2.6"/>
<rect x="104.40" y="425.25" width="11.40" height="11.40" rx="3.8" fill="none" stroke="#82e1f8" stroke-width="2.6"/>
<path d="M104.40 491.00Q104.40 495.00 108.40 495.00L111.80 495.00Q115.80 495.00 115.80 491.00L115.80 452.32Q115.80 448.32 119.80 448.32L145.48 448.32Q149.48 448.32 149.48 444.32L149.48 440.92Q149.48 436.92 145.48 436.92L108.40 436.92Q104.40 436.92 104.40 440.92Z" fill="none" stroke="#fa6fa2" stroke-width="2.6"/>
<rect x="116.07" y="311.54" width="11.40" height="11.40" rx="3.8" fill="none" stroke="#82e1f8" stroke-width="2.6"/>
<rect x="116.07" y="460.26" width="11.40" height="11.40" rx="3.8" fill="none" stroke="#82e1f8" stroke-width="2.6"/>
<rect x="127.74" y="311.54" width="11.40" height="11.40" rx="3.8" fill="none" stroke="#fa6fa2" stroke-width="2.6"/>
<rect x="127.74" y="460.26" width="11.40" height="11.40" rx="3.8" fill="none" stroke="#fa6fa2" stroke-width="2.6"/>
<rect x="139.41" y="299.87" width="11.40" height="11.40" rx="3.8" fill="none" stroke="#fa6fa2" stroke-width="2.6"/>
<rect x="139.41" y="311.54" width="11.40" height="11.40" rx="3.8" fill="none" stroke="#82e1f8" stroke-width="2.6"/>
<rect x="139.41" y="460.26" width="11.40" height="11.40" rx="3.8" fill="none" stroke="#82e1f8" stroke-width="2.6"/>
<rect x="139.41" y="471.93" width="11.40" height="11.40" rx="3.8" fill="none" stroke="#fa6fa2" stroke-width="2.6"/>
<rect x="151.08" y="299.87" width="11.40" height="11.40" rx="3.8" fill="none" stroke="#82e1f8" stroke-width="2.6"/>
<rect x="151.08" y="471.93" width="11.40" height="11.40" rx="3.8" fill="none" stroke="#82e1f8" stroke-width="2.6"/>
<rect x="162.75" y="299.87" width="11.40" height="11.40" rx="3.8" fill="none" stroke="#fa6fa2" stroke-width="2.6"/>
<rect x="162.75" y="311.54" width="11.40" height="11.40" rx="3.8" fill="none" stroke="#82e1f8" stroke-width="2.6"/>
<rect x="162.75" y="460.26" width="11.40" height="11.40" rx="3.8" fill="none" stroke="#82e1f8" stroke-width="2.6"/>
<rect x="162.75" y="471.93" width="11.40" height="11.40" rx="3.8" fill="none" stroke="#fa6fa2" stroke-width="2.6"/>
<rect x="174.42" y="311.54" width="11.40" height="11.40" rx="3.8" fill="none" stroke="#fa6fa2" stroke-width="2.6"/>
<rect x="174.42" y="460.26" width="11.40" height="11.40" rx="3.8" fill="none" stroke="#fa6fa2" stroke-width="2.6"/>
<rect x="186.09" y="311.54" width="11.40" height="11.40" rx="3.8" fill="none" stroke="#82e1f8" stroke-width="2.6"/>
<rect x="186.09" y="460.26" width="11.40" height="11.40" rx="3.8" fill="none" stroke="#82e1f8" stroke-width="2.6"/>
<path d="M209.16 292.20Q209.16 288.20 205.16 288.20L201.76 288.20Q197.76 288.20 197.76 292.20L197.76 330.88Q197.76 334.88 193.76 334.88L168.08 334.88Q164.08 334.88 164.08 338.88L164.08 342.28Q164.08 346.28 168.08 346.28L205.16 346.28Q209.16 346.28 209.16 342.28Z" fill="none" stroke="#fa6fa2" stroke-width="2.6"/>
<rect x="197.76" y="346.55" width="11.40" height="11.40" rx="3.8" fill="none" stroke="#82e1f8" stroke-width="2.6"/>
<rect x="197.76" y="425.25" width="11.40" height="11.40" rx="3.8" fill="none" stroke="#82e1f8" stroke-width="2.6"/>
<path d="M209.16 491.00Q209.16 495.00 205.16 495.00L201.76 495.00Q197.76 495.00 197.76 491.00L197.76 452.32Q197.76 448.32 193.76 448.32L168.08 448.32Q164.08 448.32 164.08 444.32L164.08 440.92Q164.08 436.92 168.08 436.92L205.16 436.92Q209.16 436.92 209.16 440.92Z" fill="none" stroke="#fa6fa2" stroke-width="2.6"/>
<rect x="151.08" y="334.88" width="11.40" height="11.40" rx="3.8" fill="none" stroke="#82e1f8" stroke-width="2.6"/>
<rect x="151.08" y="436.92" width="11.40" height="11.40" rx="3.8" fill="none" stroke="#82e1f8" stroke-width="2.6"/>
<rect x="209.43" y="311.54" width="11.40" height="11.40" rx="3.8" fill="none" stroke="#82e1f8" stroke-width="2.6"/>
<rect x="209.43" y="460.26" width="11.40" height="11.40" rx="3.8" fill="none" stroke="#82e1f8" stroke-width="2.6"/>
<rect x="221.10" y="311.54" width="11.40" height="11.40" rx="3.8" fill="none" stroke="#fa6fa2" stroke-width="2.6"/>
<rect x="221.10" y="460.26" width="11.40" height="11.40" rx="3.8" fill="none" stroke="#fa6fa2" stroke-width="2.6"/>
<rect x="232.77" y="311.54" width="11.40" height="11.40" rx="3.8" fill="none" stroke="#82e1f8" stroke-width="2.6"/>
<rect x="232.77" y="460.26" width="11.40" height="11.40" rx="3.8" fill="none" stroke="#82e1f8" stroke-width="2.6"/>
<rect x="244.44" y="311.54" width="11.40" height="11.40" rx="3.8" fill="none" stroke="#fa6fa2" stroke-width="2.6"/>
<rect x="244.44" y="460.26" width="11.40" height="11.40" rx="3.8" fill="none" stroke="#fa6fa2" stroke-width="2.6"/>
<rect x="256.11" y="311.54" width="11.40" height="11.40" rx="3.8" fill="none" stroke="#82e1f8" stroke-width="2.6"/>
<rect x="256.11" y="323.21" width="11.40" height="11.40" rx="3.8" fill="none" stroke="#fa6fa2" stroke-width="2.6"/>
<rect x="256.11" y="334.88" width="11.40" height="11.40" rx="3.8" fill="none" stroke="#82e1f8" stroke-width="2.6"/>
<rect x="256.11" y="346.55" width="11.40" height="11.40" rx="3.8" fill="none" stroke="#fa6fa2" stroke-width="2.6"/>
<rect x="256.11" y="358.22" width="11.40" height="11.40" rx="3.8" fill="none" stroke="#82e1f8" stroke-width="2.6"/>
<rect x="256.11" y="376.67" width="11.40" height="11.40" rx="3.8" fill="none" stroke="#82e1f8" stroke-width="2.6"/>
<rect x="256.11" y="395.13" width="11.40" height="11.40" rx="3.8" fill="none" stroke="#82e1f8" stroke-width="2.6"/>
<rect x="256.11" y="413.58" width="11.40" height="11.40" rx="3.8" fill="none" stroke="#82e1f8" stroke-width="2.6"/>
<rect x="256.11" y="425.25" width="11.40" height="11.40" rx="3.8" fill="none" stroke="#fa6fa2" stroke-width="2.6"/>
<rect x="256.11" y="436.92" width="11.40" height="11.40" rx="3.8" fill="none" stroke="#82e1f8" stroke-width="2.6"/>
<rect x="256.11" y="448.59" width="11.40" height="11.40" rx="3.8" fill="none" stroke="#fa6fa2" stroke-width="2.6"/>
<rect x="256.11" y="460.26" width="11.40" height="11.40" rx="3.8" fill="none" stroke="#82e1f8" stroke-width="2.6"/>
<rect x="92.73" y="288.20" width="11.40" height="11.40" rx="3.8" fill="none" stroke="#82e1f8" stroke-width="2.6"/>
<rect x="92.73" y="483.60" width="11.40" height="11.40" rx="3.8" fill="none" stroke="#82e1f8" stroke-width="2.6"/>
<rect x="116.07" y="288.20" width="11.40" height="11.40" rx="3.8" fill="none" stroke="#82e1f8" stroke-width="2.6"/>
<rect x="116.07" y="483.60" width="11.40" height="11.40" rx="3.8" fill="none" stroke="#82e1f8" stroke-width="2.6"/>
<rect x="186.09" y="288.20" width="11.40" height="11.40" rx="3.8" fill="none" stroke="#82e1f8" stroke-width="2.6"/>
<rect x="186.09" y="483.60" width="11.40" height="11.40" rx="3.8" fill="none" stroke="#82e1f8" stroke-width="2.6"/>
<rect x="209.43" y="288.20" width="11.40" height="11.40" rx="3.8" fill="none" stroke="#82e1f8" stroke-width="2.6"/>
<rect x="209.43" y="483.60" width="11.40" height="11.40" rx="3.8" fill="none" stroke="#82e1f8" stroke-width="2.6"/>
<rect x="57.72" y="358.22" width="58.08" height="66.76" rx="3.6" fill="none" stroke="#fa6fa2" stroke-width="2.6"/>
<rect x="197.76" y="358.22" width="58.08" height="66.76" rx="3.6" fill="none" stroke="#fa6fa2" stroke-width="2.6"/>
</g>
<rect x="161.7" y="367" width="85.4" height="50.4" rx="2" fill="#fff" fill-opacity="0.93" stroke="none"/>
<rect x="161.7" y="367" width="85.4" height="50.4" rx="2" fill="none" stroke="#000" stroke-width="1.45" stroke-dasharray="4.4 2.9"/>
<g filter="url(#sh)">
<rect x="166.9" y="372.6" width="15.6" height="15.4" rx="5.2" fill="none" stroke="#82e1f8" stroke-width="2.9"/>
<rect x="166.9" y="396.7" width="15.6" height="15.4" rx="5.2" fill="none" stroke="#fa6fa2" stroke-width="2.9"/>
</g>
</g>
<g id="pd">
<clipPath id="plotclip"><rect x="383.75" y="270" width="230" height="213.39999999999998"/></clipPath>
<g clip-path="url(#plotclip)" fill="none" stroke-linejoin="round">
<path d="M383.8 462.2L384.3 460.8L384.8 459.5L385.3 458.1L385.8 456.7L386.3 455.4L386.8 454.0L387.3 452.7L387.8 451.3L388.3 450.0L388.8 448.6L389.3 447.3L389.8 445.9L390.3 444.6L390.8 443.2L391.3 441.9L391.8 440.5L392.3 439.2L392.8 437.9L393.3 436.5L393.9 435.2L394.4 433.9L394.9 432.5L395.4 431.2L395.9 429.9L396.4 428.6L396.9 427.2L397.4 425.9L397.9 424.6L398.4 423.3L398.9 422.0L399.4 420.7L399.9 419.4L400.4 418.1L400.9 416.7L401.4 415.4L401.9 414.2L402.4 412.9L402.9 411.6L403.4 410.3L404.0 409.0L404.5 407.7L405.0 406.4L405.5 405.2L406.0 403.9L406.5 402.6L407.0 401.4L407.5 400.1L408.0 398.8L408.5 397.6L409.0 396.3L409.5 395.1L410.0 393.9L410.5 392.6L411.0 391.4L411.5 390.2L412.0 388.9L412.5 387.7L413.0 386.5L413.5 385.3L414.1 384.1L414.6 382.9L415.1 381.7L415.6 380.5L416.1 379.4L416.6 378.2L417.1 377.0L417.6 375.9L418.1 374.7L418.6 373.6L419.1 372.4L419.6 371.3L420.1 370.2L420.6 369.1L421.1 368.0L421.6 366.9L422.1 365.8L422.6 364.7L423.1 363.6L423.6 362.5L424.2 361.5L424.7 360.4L425.2 359.4L425.7 358.4L426.2 357.3L426.7 356.3L427.2 355.3L427.7 354.3L428.2 353.4L428.7 352.4L429.2 351.5L429.7 350.5L430.2 349.6L430.7 348.7L431.2 347.8L431.7 346.9L432.2 346.0L432.7 345.1L433.2 344.3L433.7 343.5L434.3 342.6L434.8 341.8L435.3 341.1L435.8 340.3L436.3 339.5L436.8 338.8L437.3 338.1L437.8 337.4L438.3 336.7L438.8 336.0L439.3 335.4L439.8 334.8L440.3 334.2L440.8 333.6L441.3 333.1L441.8 332.5L442.3 332.0L442.8 331.5L443.3 331.1L443.8 330.6L444.4 330.2L444.9 329.9L445.4 329.5L445.9 329.2L446.4 328.9L446.9 328.6L447.4 328.4L447.9 328.2L448.4 328.0L448.9 327.9L449.4 327.8L449.9 327.7L450.4 327.6L450.9 327.6L451.4 327.7L451.9 327.8L452.4 327.9L452.9 328.0L453.4 328.2L453.9 328.5L454.5 328.8L455.0 329.1L455.5 329.5L456.0 329.9L456.5 330.4L457.0 330.9L457.5 331.5L458.0 332.1L458.5 332.8L459.0 333.5L459.5 334.3L460.0 335.2L460.5 336.1L461.0 337.1L461.5 338.1L462.0 339.2L462.5 340.4L463.0 341.6L463.5 342.9L464.0 344.3L464.6 345.8L465.1 347.3L465.6 348.9L466.1 350.6L466.6 352.4L467.1 354.3L467.6 356.2L468.1 358.3L468.6 360.4L469.1 362.6L469.6 365.0L470.1 367.4L470.6 369.9L471.1 372.5L471.6 375.3L472.1 378.1L472.6 381.1L473.1 384.2L473.6 387.4L474.1 390.7L474.7 394.2L475.2 397.7L475.7 401.5L476.2 405.3L476.7 409.3L477.2 413.4L477.7 417.7L478.2 422.2L478.7 426.8L479.2 431.5L479.7 436.4L480.2 441.5L480.7 446.8L481.2 452.2L481.7 457.8L482.2 463.7L482.7 469.7L483.2 475.9L483.7 482.3L484.2 488.9" stroke="#c00000" stroke-width="3"/>
<path d="M383.8 458.0L384.3 457.2L384.8 456.4L385.3 455.6L385.8 454.8L386.3 454.0L386.8 453.3L387.3 452.5L387.8 451.7L388.3 450.9L388.8 450.1L389.3 449.3L389.8 448.6L390.3 447.8L390.8 447.0L391.3 446.2L391.8 445.5L392.3 444.7L392.8 443.9L393.3 443.1L393.9 442.4L394.4 441.6L394.9 440.8L395.4 440.0L395.9 439.3L396.4 438.5L396.9 437.7L397.4 437.0L397.9 436.2L398.4 435.4L398.9 434.7L399.4 433.9L399.9 433.1L400.4 432.4L400.9 431.6L401.4 430.9L401.9 430.1L402.4 429.3L402.9 428.6L403.4 427.8L404.0 427.1L404.5 426.3L405.0 425.6L405.5 424.8L406.0 424.1L406.5 423.3L407.0 422.6L407.5 421.8L408.0 421.1L408.5 420.3L409.0 419.6L409.5 418.8L410.0 418.1L410.5 417.4L411.0 416.6L411.5 415.9L412.0 415.1L412.5 414.4L413.0 413.7L413.5 412.9L414.1 412.2L414.6 411.5L415.1 410.7L415.6 410.0L416.1 409.3L416.6 408.6L417.1 407.8L417.6 407.1L418.1 406.4L418.6 405.7L419.1 405.0L419.6 404.2L420.1 403.5L420.6 402.8L421.1 402.1L421.6 401.4L422.1 400.7L422.6 400.0L423.1 399.3L423.6 398.5L424.2 397.8L424.7 397.1L425.2 396.4L425.7 395.7L426.2 395.0L426.7 394.4L427.2 393.7L427.7 393.0L428.2 392.3L428.7 391.6L429.2 390.9L429.7 390.2L430.2 389.5L430.7 388.8L431.2 388.2L431.7 387.5L432.2 386.8L432.7 386.1L433.2 385.5L433.7 384.8L434.3 384.1L434.8 383.5L435.3 382.8L435.8 382.1L436.3 381.5L436.8 380.8L437.3 380.2L437.8 379.5L438.3 378.9L438.8 378.2L439.3 377.6L439.8 376.9L440.3 376.3L440.8 375.6L441.3 375.0L441.8 374.4L442.3 373.7L442.8 373.1L443.3 372.5L443.8 371.9L444.4 371.2L444.9 370.6L445.4 370.0L445.9 369.4L446.4 368.8L446.9 368.2L447.4 367.5L447.9 366.9L448.4 366.3L448.9 365.7L449.4 365.1L449.9 364.6L450.4 364.0L450.9 363.4L451.4 362.8L451.9 362.2L452.4 361.6L452.9 361.1L453.4 360.5L453.9 359.9L454.5 359.3L455.0 358.8L455.5 358.2L456.0 357.7L456.5 357.1L457.0 356.6L457.5 356.0L458.0 355.5L458.5 354.9L459.0 354.4L459.5 353.9L460.0 353.3L460.5 352.8L461.0 352.3L461.5 351.8L462.0 351.3L462.5 350.7L463.0 350.2L463.5 349.7L464.0 349.2L464.6 348.7L465.1 348.2L465.6 347.8L466.1 347.3L466.6 346.8L467.1 346.3L467.6 345.9L468.1 345.4L468.6 344.9L469.1 344.5L469.6 344.0L470.1 343.6L470.6 343.1L471.1 342.7L471.6 342.3L472.1 341.8L472.6 341.4L473.1 341.0L473.6 340.6L474.1 340.2L474.7 339.7L475.2 339.3L475.7 339.0L476.2 338.6L476.7 338.2L477.2 337.8L477.7 337.4L478.2 337.1L478.7 336.7L479.2 336.3L479.7 336.0L480.2 335.6L480.7 335.3L481.2 335.0L481.7 334.6L482.2 334.3L482.7 334.0L483.2 333.7L483.7 333.4L484.2 333.1L484.8 332.8L485.3 332.5L485.8 332.2L486.3 331.9L486.8 331.7L487.3 331.4L487.8 331.2L488.3 330.9L488.8 330.7L489.3 330.4L489.8 330.2L490.3 330.0L490.8 329.8L491.3 329.6L491.8 329.4L492.3 329.2L492.8 329.0L493.3 328.8L493.8 328.7L494.3 328.5L494.9 328.3L495.4 328.2L495.9 328.1L496.4 327.9L496.9 327.8L497.4 327.7L497.9 327.6L498.4 327.5L498.9 327.4L499.4 327.4L499.9 327.3L500.4 327.2L500.9 327.2L501.4 327.1L501.9 327.1L502.4 327.1L502.9 327.1L503.4 327.1L503.9 327.1L504.4 327.1L505.0 327.1L505.5 327.1L506.0 327.2L506.5 327.3L507.0 327.3L507.5 327.4L508.0 327.5L508.5 327.6L509.0 327.7L509.5 327.8L510.0 327.9L510.5 328.1L511.0 328.2L511.5 328.4L512.0 328.6L512.5 328.8L513.0 329.0L513.5 329.2L514.0 329.4L514.5 329.6L515.1 329.9L515.6 330.2L516.1 330.4L516.6 330.7L517.1 331.0L517.6 331.3L518.1 331.7L518.6 332.0L519.1 332.3L519.6 332.7L520.1 333.1L520.6 333.5L521.1 333.9L521.6 334.3L522.1 334.8L522.6 335.2L523.1 335.7L523.6 336.2L524.1 336.7L524.6 337.2L525.2 337.7L525.7 338.3L526.2 338.8L526.7 339.4L527.2 340.0L527.7 340.6L528.2 341.2L528.7 341.9L529.2 342.5L529.7 343.2L530.2 343.9L530.7 344.6L531.2 345.4L531.7 346.1L532.2 346.9L532.7 347.7L533.2 348.5L533.7 349.3L534.2 350.1L534.7 351.0L535.3 351.9L535.8 352.8L536.3 353.7L536.8 354.6L537.3 355.6L537.8 356.6L538.3 357.6L538.8 358.6L539.3 359.7L539.8 360.7L540.3 361.8L540.8 362.9L541.3 364.1L541.8 365.2L542.3 366.4L542.8 367.6L543.3 368.9L543.8 370.1L544.3 371.4L544.8 372.7L545.4 374.0L545.9 375.4L546.4 376.7L546.9 378.1L547.4 379.6L547.9 381.0L548.4 382.5L548.9 384.0L549.4 385.5L549.9 387.1L550.4 388.7L550.9 390.3L551.4 391.9L551.9 393.6L552.4 395.3L552.9 397.0L553.4 398.8L553.9 400.6L554.4 402.4L554.9 404.3L555.5 406.1L556.0 408.1L556.5 410.0L557.0 412.0L557.5 414.0L558.0 416.0L558.5 418.1L559.0 420.2L559.5 422.4L560.0 424.5L560.5 426.8L561.0 429.0L561.5 431.3L562.0 433.6L562.5 436.0L563.0 438.3L563.5 440.8L564.0 443.2L564.5 445.7L565.0 448.3L565.6 450.9L566.1 453.5L566.6 456.2L567.1 458.9L567.6 461.6L568.1 464.4L568.6 467.2L569.1 470.1L569.6 473.0L570.1 475.9L570.6 478.9L571.1 482.0L571.6 485.1L572.1 488.2" stroke="#3a3a3a" stroke-width="3.1"/>
</g>
<path d="M449.6 333.6V413.6M504.5 333.6V413.6" stroke="#000" stroke-width="1.7" stroke-dasharray="7 5.4" fill="none"/>
<path d="M456.5 403H499" stroke="#000" stroke-width="1.7" stroke-dasharray="7 5.2" fill="none"/>
<path d="M450.60 403.00L456.60 400.50L455.10 403.00L456.60 405.50Z" fill="#000"/>
<path d="M503.60 403.00L497.60 405.50L499.10 403.00L497.60 400.50Z" fill="#000"/>
<rect x="439" y="420" width="76" height="17" fill="#fff"/>
<path d="M383.75 281V483.7H583" stroke="#000" stroke-width="3" fill="none" stroke-linejoin="miter"/>
<path d="M383.75 273.00L390.25 285.60L383.75 281.40L377.25 285.60Z" fill="#000"/>
<path d="M592.40 483.70L579.80 490.50L584.00 483.70L579.80 476.90Z" fill="#000"/>
<path d="M424.05 483V477.8M464.35 483V477.8M504.65 483V477.8M544.95 483V477.8M383.75 455.00H388.35M383.75 360.75H388.35" stroke="#000" stroke-width="1.9" fill="none"/>
</g>
<g id="tx">
<text id="la" transform="translate(20.63,38.1) scale(0.8696,1)" font-family='"Liberation Sans",Arial,sans-serif' font-size="32.5" fill="#000" font-weight="bold">a</text>
<text id="lb" transform="translate(337.43,38.1) scale(1.0308,1)" font-family='"Liberation Sans",Arial,sans-serif' font-size="32.5" fill="#000" font-weight="bold">b</text>
<text id="lc" transform="translate(22.08,293.1) scale(0.8668,1)" font-family='"Liberation Sans",Arial,sans-serif' font-size="32.5" fill="#000" font-weight="bold">c</text>
<text id="ld" transform="translate(335.53,293.1) scale(1.0493,1)" font-family='"Liberation Sans",Arial,sans-serif' font-size="32.5" fill="#000" font-weight="bold">d</text>
<text id="hti1" transform="translate(89.28,247) scale(0.9540,1)" font-family='"Liberation Serif","Times New Roman",serif' font-size="22.3" fill="#000" font-weight="normal">Hyperbolic</text>
<text id="hti2" transform="translate(192.65,247) scale(0.9895,1)" font-family='"Liberation Serif","Times New Roman",serif' font-size="22.3" fill="#000" font-weight="normal">TIs</text>
<text id="eti1" transform="translate(421.53,247) scale(0.9568,1)" font-family='"Liberation Serif","Times New Roman",serif' font-size="22.3" fill="#000" font-weight="normal">Euclidean</text>
<text id="eti2" transform="translate(514.81,247) scale(0.9702,1)" font-family='"Liberation Serif","Times New Roman",serif' font-size="22.3" fill="#000" font-weight="normal">TIs</text>
<text id="site1" transform="translate(192.08,384.5) scale(0.9211,1)" font-family='"Liberation Serif","Times New Roman",serif' font-size="14.0" fill="#000" font-weight="normal">Site</text>
<text id="site2" transform="translate(215.78,384.5) scale(0.8682,1)" font-family='"Liberation Serif","Times New Roman",serif' font-size="14.0" fill="#000" font-weight="normal">ring</text>
<text id="link1" transform="translate(190.84,408.7) scale(0.8610,1)" font-family='"Liberation Serif","Times New Roman",serif' font-size="14.0" fill="#000" font-weight="normal">Link</text>
<text id="link2" transform="translate(217.59,408.7) scale(0.8729,1)" font-family='"Liberation Serif","Times New Roman",serif' font-size="14.0" fill="#000" font-weight="normal">ring</text>
<text id="hyp" transform="translate(403.56,314.6) scale(0.9761,1)" font-family='"Liberation Serif","Times New Roman",serif' font-size="18.4" fill="#c00000" font-weight="normal">Hyperbolic</text>
<text id="euc" transform="translate(497.85,314.6) scale(0.9973,1)" font-family='"Liberation Serif","Times New Roman",serif' font-size="18.4" fill="#3a3a3a" font-weight="normal">Euclidean</text>
<text id="t201" transform="translate(440.17,434.6) scale(0.9622,1)" font-family='"Liberation Serif","Times New Roman",serif' font-size="18.9" fill="#000" font-weight="normal">~20</text>
<text id="t202" transform="translate(473.90,434.6) scale(0.9650,1)" font-family='"Liberation Serif","Times New Roman",serif' font-size="18.9" fill="#000" font-weight="normal">times</text>
<text id="nos1" transform="translate(415.52,525.5) scale(0.9692,1)" font-family='"Liberation Serif","Times New Roman",serif' font-size="22.0" fill="#000" font-weight="normal">Number</text>
<text id="nos2" transform="translate(492.75,525.5) scale(1.0057,1)" font-family='"Liberation Serif","Times New Roman",serif' font-size="22.0" fill="#000" font-weight="normal">of</text>
<text id="nos3" transform="translate(515.13,525.5) scale(1.0136,1)" font-family='"Liberation Serif","Times New Roman",serif' font-size="22.0" fill="#000" font-weight="normal">Sites</text>
<text id="bri1" transform="translate(344.6,464.64) rotate(-90) scale(0.9817,1)" font-family='"Liberation Serif","Times New Roman",serif' font-size="22.0">Brightness</text>
<text id="bri2" transform="translate(344.6,365.39) rotate(-90) scale(0.9933,1)" font-family='"Liberation Serif","Times New Roman",serif' font-size="22.0">(a.u.)</text>
<text transform="translate(352.4,461.4) scale(0.9,1)" font-family='"Liberation Serif","Times New Roman",serif' font-size="18.9" letter-spacing="0.3">10<tspan dx="1.8" dy="-5.7" font-size="12">1</tspan></text>
<text transform="translate(352.8,367.1) scale(0.9,1)" font-family='"Liberation Serif","Times New Roman",serif' font-size="18.9" letter-spacing="0.3">10<tspan dx="1.8" dy="-5.7" font-size="12">2</tspan></text>
<text transform="translate(370.1,502.8) scale(0.9,1)" font-family='"Liberation Serif","Times New Roman",serif' font-size="18.9" letter-spacing="0.3">10<tspan dx="1.8" dy="-5.7" font-size="12">1</tspan></text>
<text transform="translate(410.9,502.8) scale(0.9,1)" font-family='"Liberation Serif","Times New Roman",serif' font-size="18.9" letter-spacing="0.3">10<tspan dx="1.8" dy="-5.7" font-size="12">2</tspan></text>
<text transform="translate(451.6,502.8) scale(0.9,1)" font-family='"Liberation Serif","Times New Roman",serif' font-size="18.9" letter-spacing="0.3">10<tspan dx="1.8" dy="-5.7" font-size="12">3</tspan></text>
<text transform="translate(491.7,502.8) scale(0.9,1)" font-family='"Liberation Serif","Times New Roman",serif' font-size="18.9" letter-spacing="0.3">10<tspan dx="1.8" dy="-5.7" font-size="12">4</tspan></text>
<text transform="translate(532.4,502.8) scale(0.9,1)" font-family='"Liberation Serif","Times New Roman",serif' font-size="18.9" letter-spacing="0.3">10<tspan dx="1.8" dy="-5.7" font-size="12">5</tspan></text>
</g>
</svg>
<div class="glow" id="g1" style="left:115.2px;top:104.3px;font-size:29.3px;transform:scaleX(0.992)"><span class="r">196</span><span class="k">:</span><span class="b">48</span></div>
<div class="glow g2" id="g2" style="left:440.1px;top:102.3px;font-size:28.92px;transform:scaleX(1.0108)"><span class="r">60</span><span class="k">:</span><span class="b">196</span></div>
</div>
</body></html>
